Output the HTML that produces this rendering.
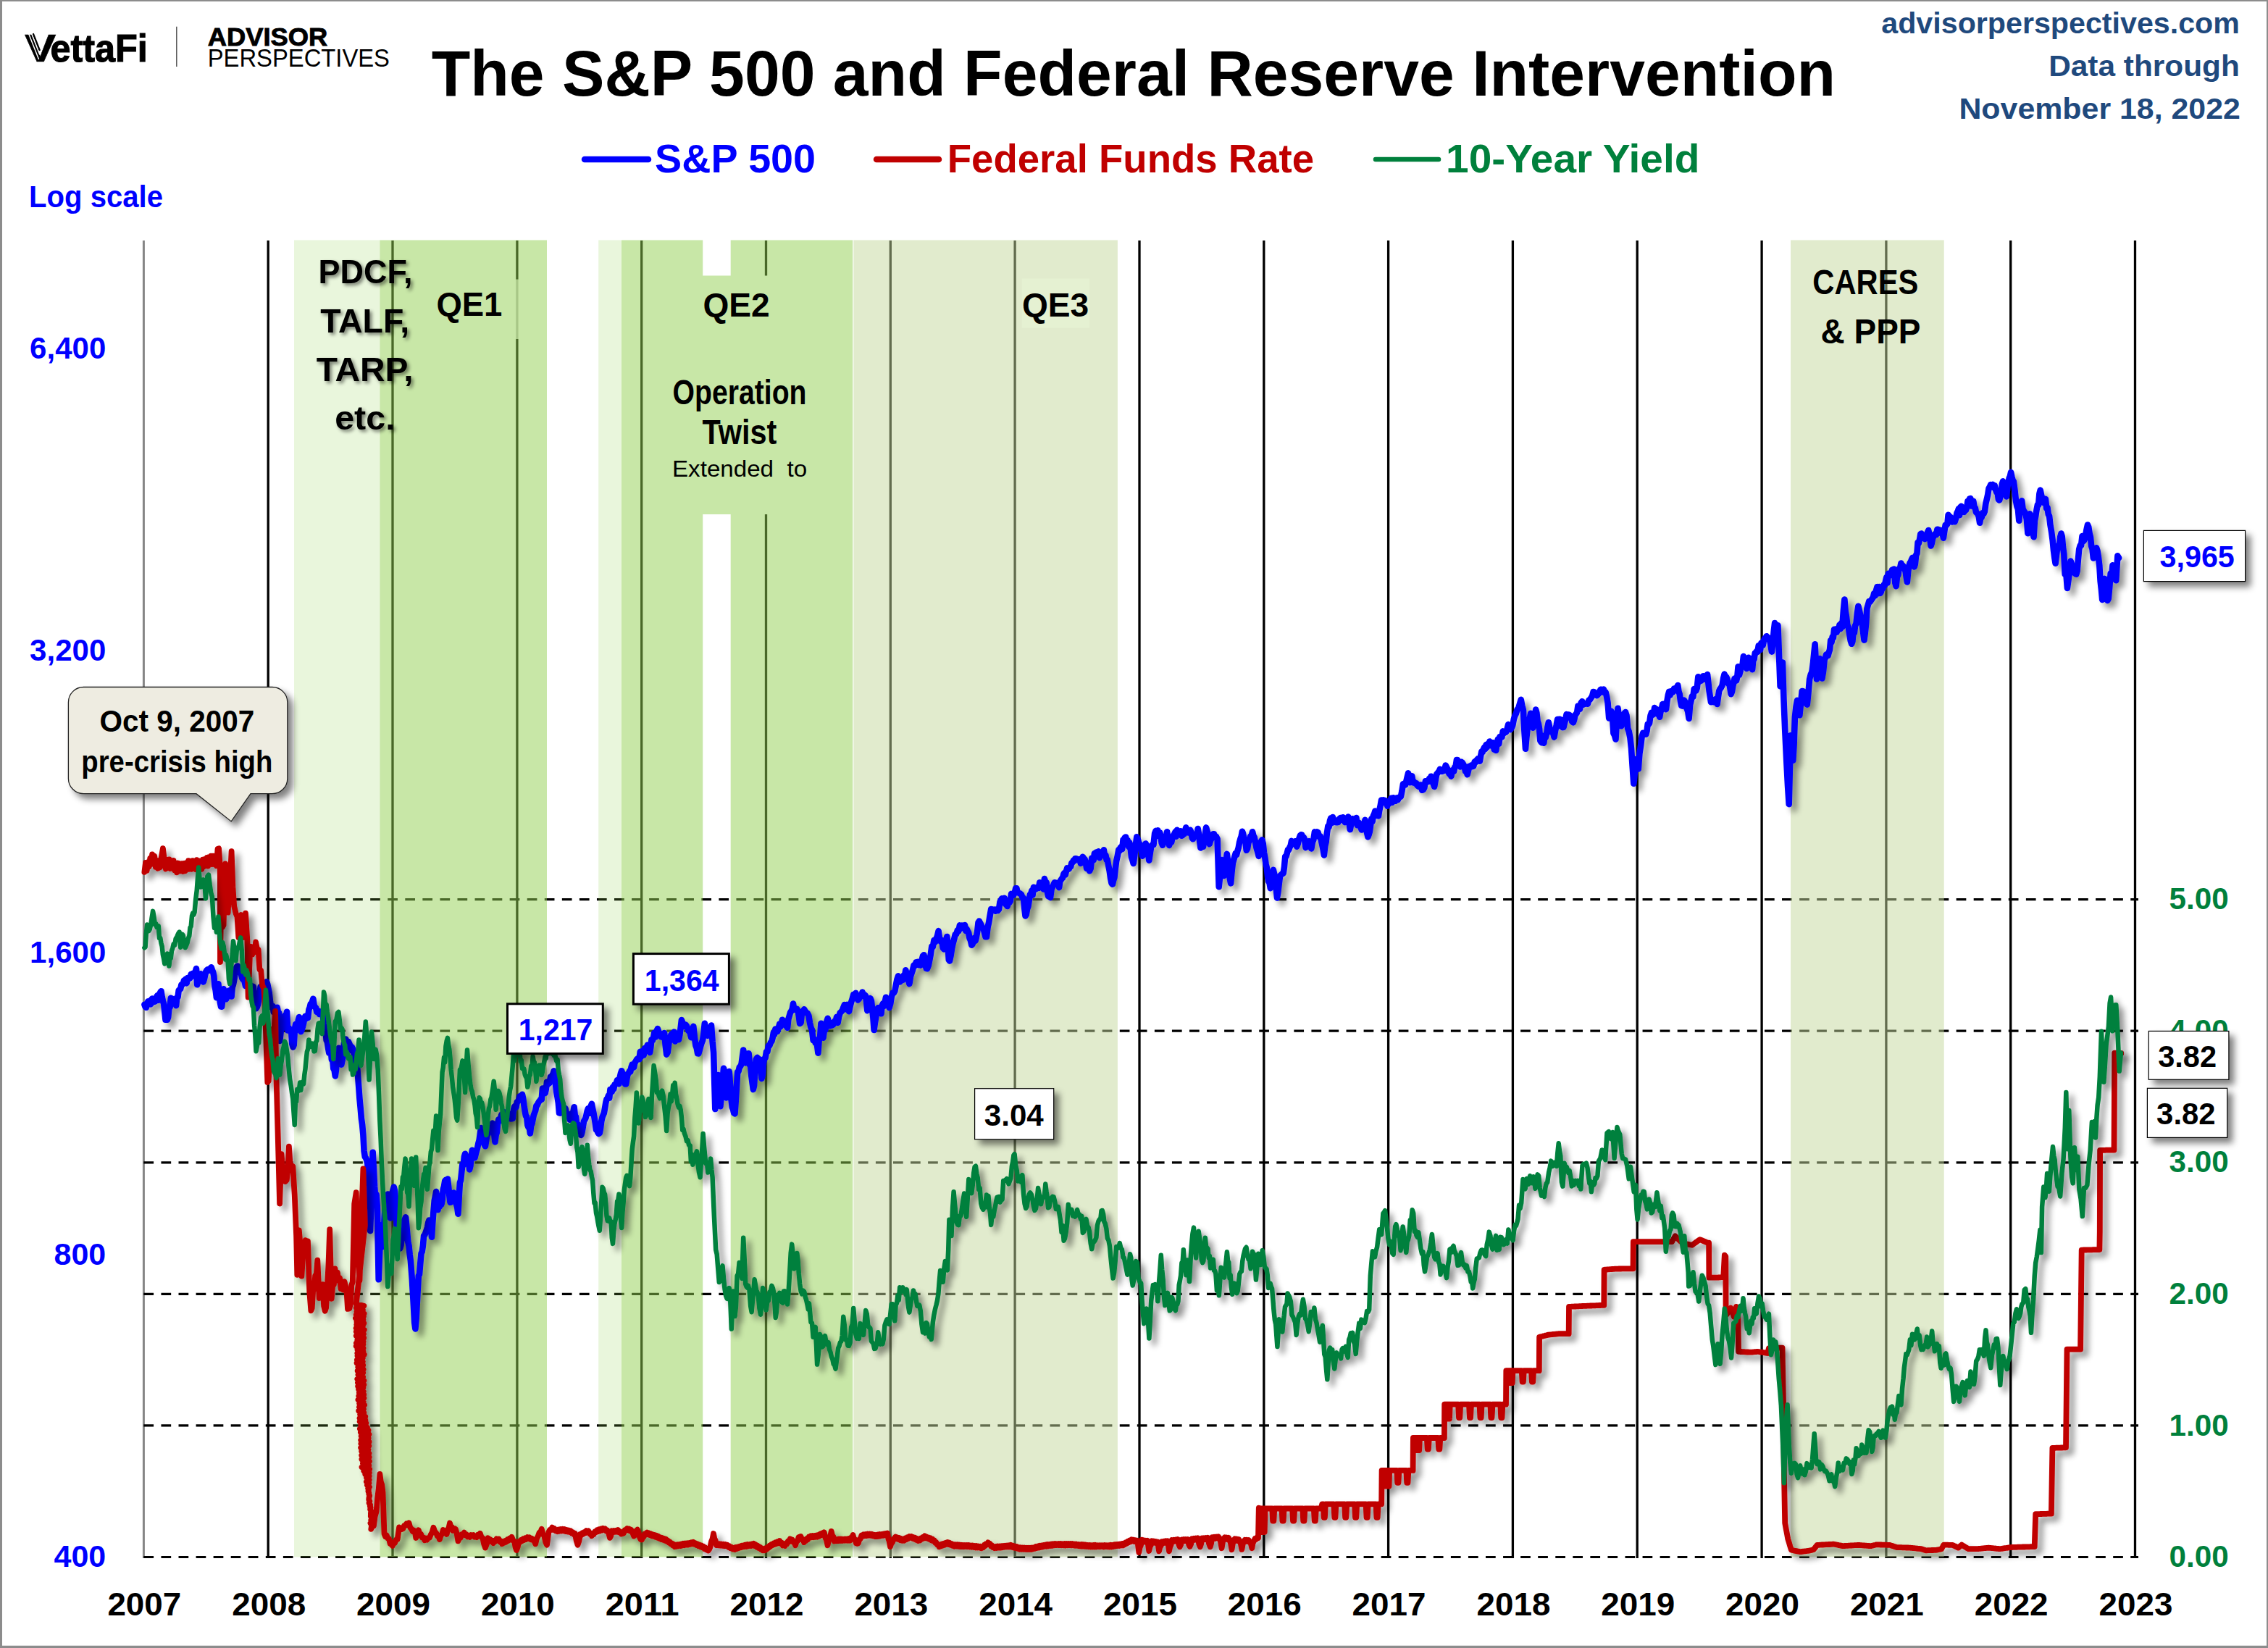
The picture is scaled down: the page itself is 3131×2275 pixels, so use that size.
<!DOCTYPE html><html><head><meta charset="utf-8"><title>The S&amp;P 500 and Federal Reserve Intervention</title>
<style>html,body{margin:0;padding:0;background:#fff}svg{display:block}text{font-family:"Liberation Sans",sans-serif}</style></head><body>
<svg width="3131" height="2275" viewBox="0 0 3131 2275">
<defs>
<filter id="sh" x="-5%" y="-5%" width="110%" height="115%"><feGaussianBlur in="SourceAlpha" stdDeviation="4.5"/><feOffset dx="6.5" dy="7"/><feComponentTransfer><feFuncA type="linear" slope="0.42"/></feComponentTransfer><feMerge><feMergeNode/><feMergeNode in="SourceGraphic"/></feMerge></filter>
<filter id="shb" x="-20%" y="-20%" width="150%" height="170%"><feGaussianBlur in="SourceAlpha" stdDeviation="5"/><feOffset dx="7" dy="7"/><feComponentTransfer><feFuncA type="linear" slope="0.5"/></feComponentTransfer><feMerge><feMergeNode/><feMergeNode in="SourceGraphic"/></feMerge></filter>
<filter id="sht" x="-10%" y="-20%" width="130%" height="150%"><feGaussianBlur in="SourceAlpha" stdDeviation="2.5"/><feOffset dx="3" dy="3"/><feComponentTransfer><feFuncA type="linear" slope="0.5"/></feComponentTransfer><feMerge><feMergeNode/><feMergeNode in="SourceGraphic"/></feMerge></filter>
</defs>
<rect x="0" y="0" width="3131" height="2275" fill="#fff"/>
<path d="M0 0H3131 V2275 H0Z M3 2 V2271.8 H3129 V2Z" fill="#8c8c8c" fill-rule="evenodd"/>
<g id="grid">
<line x1="198.4" y1="332" x2="198.4" y2="2151.0" stroke="#868686" stroke-width="3"/>
<line x1="370.2" y1="332" x2="370.2" y2="2151.0" stroke="#000" stroke-width="3.3"/>
<line x1="542.0" y1="332" x2="542.0" y2="2151.0" stroke="#000" stroke-width="3.3"/>
<line x1="713.9" y1="332" x2="713.9" y2="2151.0" stroke="#000" stroke-width="3.3"/>
<line x1="885.7" y1="332" x2="885.7" y2="2151.0" stroke="#000" stroke-width="3.3"/>
<line x1="1057.5" y1="332" x2="1057.5" y2="2151.0" stroke="#000" stroke-width="3.3"/>
<line x1="1229.3" y1="332" x2="1229.3" y2="2151.0" stroke="#000" stroke-width="3.3"/>
<line x1="1401.1" y1="332" x2="1401.1" y2="2151.0" stroke="#000" stroke-width="3.3"/>
<line x1="1573.0" y1="332" x2="1573.0" y2="2151.0" stroke="#000" stroke-width="3.3"/>
<line x1="1744.8" y1="332" x2="1744.8" y2="2151.0" stroke="#000" stroke-width="3.3"/>
<line x1="1916.6" y1="332" x2="1916.6" y2="2151.0" stroke="#000" stroke-width="3.3"/>
<line x1="2088.4" y1="332" x2="2088.4" y2="2151.0" stroke="#000" stroke-width="3.3"/>
<line x1="2260.2" y1="332" x2="2260.2" y2="2151.0" stroke="#000" stroke-width="3.3"/>
<line x1="2432.1" y1="332" x2="2432.1" y2="2151.0" stroke="#000" stroke-width="3.3"/>
<line x1="2603.9" y1="332" x2="2603.9" y2="2151.0" stroke="#000" stroke-width="3.3"/>
<line x1="2775.7" y1="332" x2="2775.7" y2="2151.0" stroke="#000" stroke-width="3.3"/>
<line x1="2947.5" y1="332" x2="2947.5" y2="2151.0" stroke="#000" stroke-width="3.3"/>
<line x1="198.4" y1="2149.5" x2="2952" y2="2149.5" stroke="#000" stroke-width="3.2" stroke-dasharray="13.7 10.36"/>
<line x1="198.4" y1="1967.9" x2="2952" y2="1967.9" stroke="#000" stroke-width="3.2" stroke-dasharray="13.7 10.36"/>
<line x1="198.4" y1="1786.4" x2="2952" y2="1786.4" stroke="#000" stroke-width="3.2" stroke-dasharray="13.7 10.36"/>
<line x1="198.4" y1="1604.8" x2="2952" y2="1604.8" stroke="#000" stroke-width="3.2" stroke-dasharray="13.7 10.36"/>
<line x1="198.4" y1="1423.2" x2="2952" y2="1423.2" stroke="#000" stroke-width="3.2" stroke-dasharray="13.7 10.36"/>
<line x1="198.4" y1="1241.7" x2="2952" y2="1241.7" stroke="#000" stroke-width="3.2" stroke-dasharray="13.7 10.36"/>
</g>
<g id="bands">
<rect x="406.0" y="331.5" width="118.4" height="1818.0" fill="#92d050" fill-opacity="0.20"/>
<rect x="524.4" y="331.5" width="230.6" height="1818.0" fill="#92d050" fill-opacity="0.50"/>
<rect x="826.2" y="331.5" width="31.8" height="1818.0" fill="#92d050" fill-opacity="0.20"/>
<rect x="858.0" y="331.5" width="112.2" height="1818.0" fill="#92d050" fill-opacity="0.50"/>
<rect x="1008.7" y="331.5" width="168.5" height="1818.0" fill="#92d050" fill-opacity="0.50"/>
<rect x="1178.4" y="331.5" width="364.5" height="1818.0" fill="#c4d79b" fill-opacity="0.50"/>
<rect x="2472.0" y="331.5" width="211.7" height="1818.0" fill="#c4d79b" fill-opacity="0.50"/>
<rect x="925" y="380.5" width="195" height="329.5" fill="#c8e7a7"/>
<rect x="590" y="385.6" width="135" height="82.4" fill="#c8e7a7" fill-opacity="0.75"/>
<rect x="1410.7" y="384.5" width="93.3" height="68.3" fill="#e5f1d2"/>
</g>
<g id="series" fill="none" stroke-linejoin="round" stroke-linecap="round">
<path filter="url(#sh)" stroke="#0000ff" stroke-width="8.6" d="M199.4 1386.7 L200.6 1389.9 L201.8 1390.8 L203.1 1385.8 L204.3 1382.4 L205.5 1384.6 L206.7 1385.3 L207.9 1386.4 L209.1 1379.6 L210.3 1378.5 L211.6 1383.3 L212.8 1381.4 L214.0 1382.7 L215.2 1379.9 L216.4 1375.4 L217.6 1373.9 L218.8 1380.7 L220.0 1372.6 L221.3 1370.0 L222.5 1368.2 L223.7 1376.5 L224.9 1381.8 L226.1 1385.5 L227.3 1396.5 L228.5 1407.8 L229.8 1407.7 L231.0 1407.7 L232.2 1404.1 L233.4 1391.3 L234.6 1390.5 L235.8 1377.8 L237.0 1381.5 L238.3 1378.8 L239.5 1383.2 L240.7 1381.9 L241.9 1382.0 L243.1 1388.1 L244.3 1377.0 L245.5 1376.6 L246.7 1367.2 L248.0 1366.0 L249.2 1365.1 L250.4 1359.5 L251.6 1359.5 L252.8 1357.6 L254.0 1353.4 L255.2 1356.2 L256.5 1351.5 L257.7 1357.4 L258.9 1350.1 L260.1 1351.8 L261.3 1348.9 L262.5 1350.1 L263.7 1344.9 L265.0 1347.8 L266.2 1343.7 L267.4 1346.1 L268.6 1343.4 L269.8 1340.8 L271.0 1337.0 L272.2 1359.3 L273.4 1355.0 L274.7 1354.5 L275.9 1345.6 L277.1 1344.2 L278.3 1348.2 L279.5 1351.6 L280.7 1355.5 L281.9 1351.7 L283.2 1346.0 L284.4 1341.1 L285.6 1339.1 L286.8 1338.2 L288.0 1339.9 L289.2 1337.7 L290.4 1336.9 L291.7 1335.3 L292.9 1339.1 L294.1 1341.7 L295.3 1347.3 L296.5 1361.4 L297.7 1367.2 L298.9 1377.2 L300.1 1373.4 L301.4 1358.2 L302.6 1371.7 L303.8 1383.2 L305.0 1389.5 L306.2 1389.6 L307.4 1379.0 L308.6 1365.3 L309.9 1372.3 L311.1 1376.3 L312.3 1379.2 L313.5 1375.5 L314.7 1371.2 L315.9 1367.6 L317.1 1369.1 L318.3 1369.7 L319.6 1375.5 L320.8 1362.7 L322.0 1359.3 L323.2 1353.1 L324.4 1345.1 L325.6 1336.6 L326.8 1334.6 L328.1 1333.5 L329.3 1336.9 L330.5 1342.1 L331.7 1337.8 L332.9 1344.2 L334.1 1350.1 L335.3 1352.1 L336.6 1346.8 L337.8 1355.9 L339.0 1361.2 L340.2 1358.7 L341.4 1354.1 L342.6 1356.1 L343.8 1358.6 L345.0 1365.6 L346.3 1361.7 L347.5 1360.9 L348.7 1365.6 L349.9 1362.1 L351.1 1377.7 L352.3 1381.6 L353.5 1392.3 L354.8 1390.2 L356.0 1386.9 L357.2 1379.6 L358.4 1373.2 L359.6 1362.1 L360.8 1363.1 L362.0 1361.8 L363.3 1360.3 L364.5 1361.6 L365.7 1357.5 L366.9 1358.7 L368.1 1355.2 L369.3 1358.8 L370.5 1364.8 L371.7 1370.6 L373.0 1382.7 L374.2 1390.1 L375.4 1391.2 L376.6 1388.9 L377.8 1397.4 L379.0 1398.1 L380.2 1394.1 L381.5 1393.3 L382.7 1390.7 L383.9 1397.1 L385.1 1398.2 L386.3 1436.9 L387.5 1425.5 L388.7 1417.2 L390.0 1406.3 L391.2 1418.5 L392.4 1411.7 L393.6 1401.5 L394.8 1406.2 L396.0 1396.7 L397.2 1422.5 L398.4 1418.5 L399.7 1420.6 L400.9 1422.2 L402.1 1423.5 L403.3 1441.3 L404.5 1445.4 L405.7 1442.8 L406.9 1420.4 L408.2 1413.7 L409.4 1421.1 L410.6 1421.5 L411.8 1407.9 L413.0 1404.0 L414.2 1418.9 L415.4 1424.1 L416.7 1421.3 L417.9 1417.3 L419.1 1412.5 L420.3 1405.5 L421.5 1402.7 L422.7 1406.1 L423.9 1401.7 L425.1 1404.9 L426.4 1393.8 L427.6 1390.7 L428.8 1385.9 L430.0 1388.1 L431.2 1382.1 L432.4 1378.7 L433.6 1387.7 L434.9 1390.2 L436.1 1391.4 L437.3 1397.0 L438.5 1396.3 L439.7 1395.6 L440.9 1400.0 L442.1 1399.4 L443.3 1397.4 L444.6 1396.1 L445.8 1401.7 L447.0 1412.8 L448.2 1418.6 L449.4 1420.9 L450.6 1436.0 L451.8 1438.4 L453.1 1447.2 L454.3 1453.8 L455.5 1449.2 L456.7 1447.9 L457.9 1462.9 L459.1 1461.3 L460.3 1475.1 L461.6 1477.1 L462.8 1485.4 L464.0 1476.6 L465.2 1456.7 L466.4 1460.0 L467.6 1446.8 L468.8 1451.9 L470.0 1458.8 L471.3 1469.6 L472.5 1463.9 L473.7 1458.0 L474.9 1440.3 L476.1 1443.1 L477.3 1434.5 L478.5 1442.5 L479.8 1444.7 L481.0 1437.9 L482.2 1440.7 L483.4 1443.7 L484.6 1449.9 L485.8 1445.3 L487.0 1447.8 L488.3 1451.0 L489.5 1465.8 L490.7 1467.8 L491.9 1466.8 L493.1 1472.3 L494.8 1494.5 L496.5 1517.4 L497.7 1530.2 L498.9 1544.2 L500.1 1552.4 L501.4 1566.9 L502.6 1588.8 L503.8 1596.8 L505.0 1598.6 L506.2 1601.4 L507.4 1606.5 L508.6 1638.6 L509.9 1665.2 L511.1 1699.2 L512.3 1664.8 L513.5 1625.9 L514.7 1590.7 L515.9 1614.1 L517.1 1638.0 L518.3 1654.3 L519.6 1649.2 L520.8 1665.4 L522.7 1766.3 L524.2 1727.4 L525.6 1691.5 L527.1 1710.6 L528.5 1720.9 L530.1 1693.1 L531.7 1664.4 L532.9 1660.7 L534.1 1659.5 L535.3 1648.5 L536.6 1657.2 L537.8 1668.7 L539.0 1681.5 L540.2 1658.5 L541.4 1647.0 L542.6 1642.8 L543.8 1638.6 L545.0 1643.9 L546.3 1659.7 L547.5 1689.4 L548.7 1700.2 L549.9 1700.7 L551.1 1710.5 L552.3 1723.4 L553.5 1719.1 L554.8 1709.0 L556.0 1686.4 L557.3 1692.2 L558.7 1683.4 L560.1 1680.3 L561.7 1696.8 L563.3 1714.5 L564.5 1719.7 L565.7 1731.7 L566.9 1740.8 L568.8 1765.4 L570.5 1794.7 L572.2 1826.0 L573.4 1834.4 L574.7 1819.6 L576.1 1791.7 L577.8 1761.2 L579.0 1759.4 L580.2 1745.0 L581.5 1730.4 L582.7 1727.9 L583.9 1719.7 L585.1 1705.9 L586.3 1704.8 L587.5 1701.8 L588.7 1698.6 L590.0 1694.1 L591.2 1687.8 L592.4 1684.5 L593.6 1688.7 L594.8 1694.1 L596.0 1707.8 L597.2 1688.9 L598.4 1673.2 L599.7 1657.4 L600.9 1651.7 L602.1 1645.1 L603.3 1651.1 L604.5 1670.1 L605.7 1664.8 L606.9 1665.7 L608.2 1663.0 L609.4 1662.8 L610.6 1656.1 L611.8 1641.7 L613.0 1637.7 L614.2 1630.3 L615.4 1628.9 L616.7 1633.2 L617.9 1627.5 L619.1 1637.8 L620.3 1650.2 L621.5 1659.8 L622.7 1659.4 L623.9 1658.5 L625.1 1655.7 L626.4 1646.6 L627.6 1649.0 L628.8 1654.5 L630.0 1662.1 L631.2 1666.4 L632.4 1675.7 L633.6 1654.2 L634.9 1632.5 L636.1 1629.3 L637.3 1617.9 L638.5 1606.8 L639.7 1608.4 L640.9 1596.8 L642.1 1592.7 L643.3 1596.1 L644.6 1598.0 L645.8 1598.4 L647.0 1603.8 L648.2 1614.4 L649.4 1609.7 L650.6 1597.3 L651.8 1587.8 L653.1 1590.5 L654.3 1594.2 L655.5 1598.1 L656.7 1593.3 L657.9 1588.9 L659.1 1584.7 L660.3 1578.7 L661.6 1573.9 L662.8 1565.4 L664.0 1557.1 L665.2 1563.0 L666.4 1567.3 L667.6 1573.8 L668.8 1580.2 L670.0 1582.3 L671.3 1573.8 L672.5 1566.6 L673.7 1565.5 L674.9 1559.3 L676.1 1557.3 L677.3 1555.6 L678.5 1554.3 L679.8 1550.6 L681.0 1561.4 L682.2 1565.2 L683.4 1576.4 L684.6 1567.1 L685.8 1563.5 L687.0 1551.9 L688.3 1545.2 L689.5 1545.6 L690.7 1547.3 L691.9 1539.8 L693.1 1537.9 L694.3 1541.9 L695.5 1535.1 L696.7 1540.4 L698.0 1538.3 L699.2 1540.4 L700.4 1536.1 L701.6 1544.3 L702.8 1541.8 L704.0 1538.0 L705.2 1544.4 L706.5 1538.4 L707.7 1544.1 L708.9 1532.8 L710.1 1527.7 L711.3 1526.5 L712.5 1528.6 L713.7 1521.5 L715.0 1520.3 L716.2 1518.1 L717.4 1513.4 L718.6 1515.8 L719.8 1513.6 L721.0 1510.8 L722.2 1516.5 L723.4 1525.9 L724.7 1533.8 L725.9 1540.5 L727.1 1541.4 L728.3 1553.1 L729.5 1556.1 L730.7 1555.6 L731.9 1564.6 L733.2 1553.8 L734.4 1551.4 L735.6 1545.4 L736.8 1539.4 L738.0 1536.2 L739.2 1533.2 L740.4 1526.5 L741.7 1525.7 L742.9 1522.6 L744.1 1520.6 L745.3 1519.3 L746.5 1517.6 L747.7 1517.9 L748.9 1502.6 L750.1 1508.0 L751.4 1503.8 L752.6 1509.1 L753.8 1503.5 L755.0 1493.5 L756.2 1497.2 L757.4 1492.7 L758.6 1495.1 L759.9 1486.8 L761.1 1486.9 L762.3 1484.5 L763.5 1482.2 L764.7 1478.3 L765.9 1482.6 L767.1 1497.4 L768.3 1507.4 L769.6 1514.8 L770.8 1522.4 L772.0 1536.4 L773.2 1536.7 L774.4 1533.5 L775.6 1532.9 L776.8 1536.3 L778.1 1527.9 L779.3 1531.7 L780.5 1530.1 L781.7 1536.0 L782.9 1538.4 L784.1 1540.2 L785.3 1539.6 L786.6 1545.7 L787.8 1538.7 L789.0 1537.3 L790.2 1542.8 L791.4 1535.0 L792.6 1528.3 L793.8 1539.9 L795.0 1541.7 L796.3 1554.7 L797.5 1551.8 L798.7 1557.1 L799.9 1557.7 L801.1 1566.3 L802.3 1566.9 L803.5 1562.9 L804.8 1555.4 L806.0 1548.0 L807.2 1545.9 L808.4 1543.7 L809.6 1538.7 L810.8 1533.2 L812.0 1530.1 L813.3 1531.7 L814.5 1536.7 L815.7 1526.8 L816.9 1523.8 L818.1 1530.5 L819.3 1535.8 L820.5 1542.5 L821.7 1549.7 L823.0 1559.6 L824.2 1560.4 L825.4 1563.5 L826.6 1565.0 L827.8 1564.2 L829.0 1557.7 L830.2 1548.0 L831.5 1542.2 L832.7 1539.3 L833.9 1536.5 L835.1 1529.5 L836.3 1522.1 L837.5 1517.4 L838.7 1516.2 L840.0 1512.3 L841.2 1515.7 L842.4 1504.1 L843.6 1503.9 L844.8 1506.9 L846.0 1500.5 L847.2 1503.4 L848.4 1497.2 L849.7 1496.9 L850.9 1494.8 L852.1 1491.1 L853.3 1491.5 L854.5 1496.3 L855.7 1487.2 L856.9 1482.0 L858.2 1478.2 L859.4 1482.6 L860.6 1489.3 L861.8 1491.0 L863.0 1496.4 L864.2 1496.4 L865.4 1488.9 L866.7 1482.1 L867.9 1481.6 L869.1 1478.4 L870.3 1479.4 L871.5 1473.2 L872.7 1469.5 L873.9 1469.6 L875.1 1473.4 L876.4 1466.8 L877.6 1465.2 L878.8 1462.8 L880.0 1461.6 L881.3 1462.1 L882.5 1462.2 L883.8 1451.8 L885.0 1459.0 L886.3 1453.9 L887.5 1450.6 L888.7 1456.5 L890.0 1447.1 L891.2 1450.9 L892.4 1446.1 L894.0 1442.6 L895.5 1449.4 L897.1 1452.9 L898.3 1446.0 L899.5 1435.0 L900.8 1436.3 L902.0 1432.7 L903.2 1425.7 L904.8 1431.7 L906.3 1423.4 L907.9 1420.1 L909.4 1424.4 L911.0 1427.1 L912.5 1431.2 L914.1 1431.7 L915.6 1430.5 L917.2 1426.0 L918.7 1443.3 L920.2 1455.7 L921.8 1452.5 L923.3 1440.2 L924.9 1434.2 L926.4 1428.4 L928.0 1426.8 L929.5 1426.5 L930.7 1424.5 L932.0 1437.5 L933.2 1432.7 L934.5 1434.4 L935.7 1434.5 L937.0 1435.2 L938.3 1428.8 L939.6 1419.3 L940.9 1408.0 L942.3 1411.8 L943.7 1416.9 L945.1 1415.2 L946.5 1414.6 L947.7 1416.0 L949.0 1418.8 L950.2 1422.7 L951.4 1422.4 L952.7 1425.9 L954.2 1432.2 L955.8 1427.5 L957.3 1416.9 L958.9 1432.2 L960.4 1443.2 L961.7 1446.6 L963.1 1454.3 L964.4 1454.4 L965.9 1449.1 L967.3 1443.8 L968.7 1439.5 L970.1 1435.9 L971.4 1426.9 L972.8 1412.8 L974.1 1418.7 L975.4 1421.4 L976.8 1429.8 L978.1 1426.7 L979.4 1427.1 L980.7 1422.8 L982.0 1415.6 L983.6 1437.8 L985.1 1452.9 L987.3 1531.0 L988.6 1511.2 L990.0 1500.6 L991.3 1484.1 L992.8 1504.1 L994.4 1527.3 L995.9 1512.0 L997.5 1492.8 L999.0 1474.7 L1000.3 1479.6 L1001.5 1497.6 L1002.7 1515.4 L1004.1 1501.6 L1005.4 1482.9 L1006.7 1479.0 L1008.1 1498.0 L1009.4 1516.9 L1010.8 1528.5 L1012.0 1531.2 L1013.2 1536.5 L1014.5 1537.4 L1015.7 1520.1 L1016.9 1501.1 L1018.2 1479.7 L1019.5 1479.1 L1020.8 1473.2 L1022.2 1472.0 L1023.5 1469.1 L1024.9 1458.7 L1026.2 1449.5 L1027.7 1459.8 L1029.3 1467.4 L1030.8 1462.2 L1032.4 1454.4 L1033.6 1454.2 L1034.9 1469.6 L1036.1 1469.6 L1037.3 1485.1 L1038.6 1495.2 L1039.8 1504.0 L1041.1 1498.8 L1042.5 1473.2 L1043.8 1462.5 L1045.4 1459.9 L1046.9 1463.8 L1048.4 1462.2 L1050.0 1474.0 L1051.5 1488.9 L1052.8 1483.9 L1054.0 1467.4 L1055.2 1461.4 L1056.6 1460.4 L1058.0 1452.0 L1059.4 1451.9 L1060.8 1443.7 L1062.3 1443.6 L1063.9 1439.2 L1065.4 1437.3 L1066.7 1432.4 L1067.9 1425.2 L1069.1 1428.0 L1070.4 1420.5 L1071.6 1423.4 L1073.2 1423.9 L1074.7 1419.2 L1076.2 1413.5 L1077.5 1417.4 L1078.7 1413.3 L1080.0 1407.7 L1081.2 1408.9 L1082.4 1413.1 L1084.0 1411.8 L1085.5 1416.5 L1087.1 1418.7 L1088.4 1406.9 L1089.7 1402.5 L1091.1 1397.6 L1092.4 1395.7 L1093.7 1393.0 L1095.0 1385.5 L1096.3 1393.7 L1097.7 1392.2 L1099.0 1392.5 L1100.3 1392.9 L1101.6 1395.4 L1102.8 1402.4 L1104.1 1412.9 L1105.6 1411.9 L1107.1 1396.9 L1108.7 1395.6 L1110.2 1393.3 L1111.8 1396.1 L1113.3 1398.0 L1114.9 1399.0 L1116.4 1402.1 L1118.0 1412.0 L1119.5 1418.4 L1121.0 1421.8 L1122.6 1436.1 L1124.1 1434.3 L1125.7 1439.7 L1127.2 1436.0 L1129.4 1453.7 L1130.7 1435.7 L1132.1 1432.0 L1133.4 1412.9 L1134.9 1429.8 L1136.5 1432.7 L1137.7 1423.7 L1139.0 1422.2 L1140.2 1418.9 L1141.4 1409.7 L1142.7 1405.8 L1144.2 1412.7 L1145.8 1416.2 L1147.3 1412.1 L1148.8 1415.4 L1150.4 1414.2 L1151.9 1409.9 L1153.5 1410.5 L1155.0 1403.9 L1156.6 1411.9 L1158.1 1403.5 L1159.7 1398.2 L1161.2 1396.8 L1162.7 1395.0 L1164.3 1390.8 L1165.8 1387.0 L1167.1 1393.1 L1168.3 1392.7 L1169.5 1386.9 L1170.8 1390.2 L1172.0 1396.2 L1173.6 1389.2 L1175.1 1383.5 L1176.7 1378.5 L1178.2 1373.2 L1179.7 1373.5 L1181.3 1370.8 L1182.8 1374.7 L1184.4 1380.5 L1185.9 1378.8 L1187.5 1375.9 L1189.0 1374.9 L1190.6 1369.6 L1192.1 1374.8 L1193.6 1373.4 L1194.9 1374.5 L1196.1 1382.6 L1197.3 1395.1 L1198.7 1390.4 L1200.1 1385.3 L1201.5 1378.1 L1202.9 1381.6 L1204.1 1392.3 L1205.4 1404.9 L1206.6 1422.0 L1208.0 1411.5 L1209.3 1403.8 L1210.6 1393.8 L1212.2 1391.3 L1213.7 1392.7 L1215.3 1390.5 L1216.5 1399.3 L1217.7 1388.1 L1219.0 1385.4 L1220.2 1389.1 L1221.4 1384.6 L1223.0 1376.7 L1224.5 1380.2 L1226.1 1385.0 L1227.6 1391.0 L1229.2 1385.7 L1230.7 1376.4 L1232.3 1370.9 L1233.8 1370.8 L1235.3 1368.2 L1236.9 1359.6 L1238.4 1352.2 L1240.0 1347.4 L1241.2 1352.6 L1242.5 1355.4 L1243.7 1353.4 L1244.9 1353.0 L1246.2 1352.9 L1247.6 1346.3 L1248.9 1348.0 L1250.3 1339.2 L1251.7 1344.4 L1253.0 1349.4 L1254.2 1353.6 L1255.4 1358.2 L1257.0 1347.8 L1258.5 1343.3 L1260.1 1338.6 L1261.6 1332.3 L1263.2 1333.2 L1264.7 1328.2 L1265.9 1331.1 L1267.2 1327.8 L1268.4 1332.1 L1269.6 1330.8 L1270.9 1332.6 L1272.4 1325.8 L1274.0 1319.8 L1275.5 1318.2 L1277.1 1328.6 L1278.6 1336.6 L1280.1 1337.1 L1281.7 1333.0 L1283.2 1325.9 L1284.8 1317.5 L1286.3 1306.5 L1287.9 1306.7 L1289.4 1297.9 L1291.0 1300.6 L1292.5 1296.1 L1294.0 1292.0 L1295.6 1285.1 L1297.1 1296.6 L1298.7 1299.9 L1300.2 1298.1 L1301.8 1308.7 L1303.3 1310.4 L1304.7 1304.9 L1306.0 1298.6 L1307.3 1293.0 L1308.6 1304.5 L1309.8 1324.9 L1311.0 1326.6 L1312.6 1319.0 L1314.1 1309.2 L1315.7 1301.9 L1317.2 1296.5 L1318.8 1289.8 L1320.3 1289.4 L1321.8 1284.2 L1323.4 1285.3 L1324.9 1277.4 L1326.5 1281.8 L1328.0 1277.7 L1329.6 1278.1 L1330.8 1277.7 L1332.0 1277.1 L1333.3 1285.1 L1334.5 1282.4 L1335.7 1284.9 L1337.1 1287.3 L1338.5 1295.1 L1339.9 1298.1 L1341.3 1304.7 L1342.6 1303.4 L1343.9 1298.8 L1345.2 1294.9 L1346.6 1298.8 L1347.9 1293.6 L1349.2 1286.0 L1350.5 1273.5 L1351.8 1271.6 L1353.2 1274.2 L1354.6 1277.0 L1356.0 1280.5 L1357.4 1281.4 L1358.9 1287.0 L1360.5 1293.3 L1362.0 1293.3 L1363.6 1279.9 L1365.1 1273.5 L1366.6 1264.3 L1368.2 1255.1 L1369.7 1255.2 L1371.3 1256.1 L1372.8 1255.6 L1374.4 1257.8 L1375.9 1255.3 L1377.5 1257.0 L1379.0 1255.2 L1380.5 1244.9 L1381.8 1242.4 L1383.0 1240.4 L1384.3 1245.8 L1385.5 1243.2 L1386.7 1239.7 L1388.0 1247.9 L1389.3 1249.2 L1390.7 1251.0 L1392.0 1246.2 L1393.4 1246.2 L1394.8 1244.0 L1396.1 1233.9 L1397.5 1235.4 L1399.1 1235.7 L1400.6 1233.1 L1402.2 1226.2 L1403.4 1226.3 L1404.6 1231.5 L1405.9 1232.3 L1407.1 1233.3 L1408.3 1233.5 L1409.9 1234.8 L1411.4 1238.8 L1413.0 1239.6 L1414.2 1253.4 L1415.5 1264.5 L1416.7 1262.7 L1418.0 1255.0 L1419.4 1251.2 L1420.7 1243.3 L1421.9 1235.0 L1423.2 1233.6 L1424.4 1229.4 L1425.6 1235.6 L1426.9 1224.8 L1428.4 1226.6 L1430.0 1227.4 L1431.5 1224.9 L1432.8 1224.4 L1434.0 1225.9 L1435.2 1218.3 L1436.5 1221.4 L1437.7 1221.3 L1439.1 1220.7 L1440.5 1227.5 L1441.9 1213.1 L1443.3 1217.3 L1444.6 1218.0 L1445.9 1231.3 L1447.2 1237.3 L1448.5 1237.7 L1450.1 1239.0 L1451.6 1227.2 L1453.1 1224.4 L1454.4 1221.4 L1455.7 1218.3 L1457.0 1218.5 L1458.3 1219.0 L1459.6 1221.0 L1460.9 1219.4 L1462.1 1225.1 L1463.3 1216.9 L1464.6 1214.7 L1465.8 1213.0 L1467.0 1211.9 L1468.3 1206.8 L1469.5 1204.9 L1470.8 1207.6 L1472.0 1202.3 L1473.2 1198.4 L1474.5 1198.6 L1475.7 1199.6 L1476.9 1197.2 L1478.2 1196.3 L1479.4 1191.1 L1480.6 1190.6 L1481.9 1187.8 L1483.1 1188.6 L1484.3 1185.3 L1485.6 1185.3 L1486.8 1186.2 L1488.1 1186.4 L1489.3 1186.6 L1490.5 1186.2 L1491.8 1191.9 L1493.3 1186.2 L1494.8 1182.9 L1496.4 1185.4 L1497.6 1186.3 L1498.9 1190.8 L1500.1 1198.9 L1501.3 1198.5 L1502.6 1198.2 L1504.1 1202.3 L1505.7 1198.9 L1507.2 1184.7 L1508.4 1184.8 L1509.7 1187.5 L1510.9 1178.1 L1512.1 1179.3 L1513.4 1176.6 L1514.9 1180.1 L1516.5 1175.4 L1518.0 1184.3 L1519.6 1180.0 L1521.1 1179.7 L1522.7 1176.3 L1523.9 1173.3 L1525.1 1181.4 L1526.4 1180.6 L1527.6 1186.9 L1528.8 1187.0 L1530.3 1195.3 L1531.7 1202.5 L1533.1 1212.3 L1534.5 1219.2 L1535.9 1220.7 L1537.2 1215.1 L1538.4 1211.5 L1539.6 1200.6 L1541.2 1188.5 L1542.7 1181.9 L1544.3 1173.1 L1545.5 1174.8 L1546.7 1170.1 L1548.0 1168.8 L1549.2 1172.2 L1550.5 1159.5 L1551.7 1159.2 L1552.9 1156.1 L1554.2 1155.5 L1555.4 1161.9 L1556.6 1159.7 L1558.0 1168.7 L1559.3 1163.2 L1560.7 1171.0 L1562.0 1183.2 L1563.4 1187.4 L1564.7 1192.0 L1566.3 1180.6 L1567.8 1166.7 L1569.3 1155.2 L1570.9 1158.9 L1572.4 1164.9 L1574.0 1165.6 L1575.5 1172.6 L1577.1 1181.7 L1578.6 1179.8 L1580.2 1170.5 L1581.7 1164.5 L1583.2 1168.4 L1584.8 1174.8 L1586.3 1187.7 L1587.9 1176.8 L1589.4 1167.9 L1591.0 1166.1 L1592.5 1166.0 L1594.1 1150.7 L1595.6 1146.9 L1597.0 1148.9 L1598.4 1146.3 L1599.8 1154.3 L1601.2 1149.4 L1602.4 1153.6 L1603.6 1163.3 L1604.9 1166.8 L1606.4 1161.0 L1608.0 1157.0 L1609.5 1157.7 L1611.1 1148.3 L1612.6 1159.7 L1614.1 1167.0 L1615.7 1162.2 L1617.2 1162.6 L1618.8 1155.3 L1620.0 1153.2 L1621.2 1151.4 L1622.5 1148.3 L1623.7 1154.7 L1625.0 1145.7 L1626.2 1149.7 L1627.4 1149.9 L1628.7 1150.3 L1629.9 1147.2 L1631.1 1153.7 L1632.4 1153.4 L1633.6 1151.3 L1634.8 1151.3 L1636.1 1146.2 L1637.3 1142.4 L1638.9 1146.7 L1640.4 1149.5 L1641.9 1146.4 L1643.2 1145.9 L1644.4 1148.8 L1645.7 1156.6 L1646.9 1158.3 L1648.1 1154.2 L1649.5 1154.2 L1650.9 1153.9 L1652.3 1152.7 L1653.7 1144.1 L1654.9 1150.8 L1656.2 1161.4 L1657.4 1170.4 L1658.6 1169.4 L1659.9 1162.8 L1661.1 1168.7 L1662.4 1159.0 L1663.8 1151.9 L1665.1 1142.4 L1666.7 1148.0 L1668.2 1154.6 L1669.7 1165.2 L1671.0 1160.6 L1672.2 1158.1 L1673.5 1155.3 L1674.7 1151.4 L1675.9 1151.3 L1677.5 1155.8 L1679.0 1154.8 L1680.6 1158.1 L1682.7 1224.2 L1684.1 1210.8 L1685.4 1193.6 L1686.7 1187.0 L1688.3 1190.2 L1689.8 1208.9 L1691.2 1195.7 L1692.5 1190.1 L1693.8 1178.9 L1695.2 1190.2 L1696.5 1197.9 L1697.8 1212.9 L1699.1 1219.4 L1700.4 1204.7 L1701.8 1192.0 L1703.1 1187.1 L1704.4 1183.0 L1705.7 1178.0 L1707.1 1180.0 L1708.4 1174.8 L1709.7 1170.4 L1711.0 1163.2 L1712.4 1158.0 L1713.6 1154.7 L1714.9 1147.7 L1716.1 1150.7 L1717.6 1158.5 L1719.2 1160.4 L1720.7 1173.8 L1722.1 1171.5 L1723.4 1163.3 L1724.7 1160.7 L1726.2 1154.6 L1727.6 1153.6 L1729.1 1148.2 L1730.4 1153.8 L1731.7 1155.8 L1733.1 1163.0 L1734.6 1170.7 L1736.2 1175.8 L1737.7 1181.9 L1739.3 1172.2 L1740.8 1162.0 L1742.3 1159.4 L1743.7 1164.6 L1745.0 1177.0 L1746.4 1184.5 L1747.6 1192.9 L1748.8 1197.8 L1750.1 1210.6 L1751.3 1216.9 L1752.5 1218.5 L1753.8 1226.2 L1755.1 1218.6 L1756.5 1210.8 L1757.8 1200.8 L1759.1 1206.3 L1760.4 1215.1 L1761.7 1226.1 L1763.0 1239.5 L1764.4 1231.2 L1765.7 1220.2 L1767.1 1209.0 L1768.6 1207.7 L1770.2 1206.2 L1771.7 1205.5 L1772.9 1197.1 L1774.2 1182.6 L1775.4 1182.5 L1776.6 1178.5 L1777.9 1173.2 L1779.1 1173.3 L1780.3 1170.0 L1781.7 1167.4 L1783.0 1160.9 L1784.3 1164.5 L1785.6 1164.6 L1787.1 1164.4 L1788.7 1161.2 L1790.2 1168.7 L1791.8 1164.6 L1793.3 1157.9 L1794.9 1153.4 L1796.1 1152.3 L1797.3 1152.5 L1798.6 1157.3 L1799.8 1156.0 L1801.0 1158.8 L1802.6 1170.1 L1804.1 1165.0 L1805.7 1165.0 L1807.2 1161.2 L1808.8 1167.6 L1810.3 1171.4 L1811.9 1162.5 L1813.4 1159.0 L1814.9 1148.4 L1816.5 1153.9 L1818.0 1148.3 L1819.6 1149.4 L1821.1 1155.3 L1822.7 1154.4 L1824.2 1161.2 L1825.4 1166.9 L1826.7 1173.2 L1827.9 1180.6 L1829.3 1167.5 L1830.6 1162.5 L1831.9 1150.3 L1833.3 1140.5 L1834.6 1141.6 L1836.0 1133.0 L1837.3 1129.3 L1838.6 1136.2 L1839.9 1128.0 L1841.2 1133.8 L1842.7 1132.3 L1844.3 1135.3 L1845.8 1135.2 L1847.4 1135.0 L1848.9 1130.7 L1850.5 1129.2 L1851.7 1128.8 L1852.9 1131.9 L1854.2 1128.2 L1855.4 1132.9 L1856.7 1135.1 L1858.2 1130.0 L1859.7 1130.8 L1861.3 1127.5 L1862.5 1135.7 L1863.8 1145.1 L1865.0 1138.8 L1866.2 1132.4 L1867.5 1130.2 L1868.7 1132.0 L1869.9 1133.3 L1871.2 1135.4 L1872.4 1129.0 L1873.6 1139.1 L1874.9 1136.3 L1876.1 1135.9 L1877.3 1138.5 L1878.6 1142.6 L1879.8 1145.5 L1881.4 1139.8 L1882.9 1139.1 L1884.5 1131.9 L1885.8 1143.6 L1887.1 1149.7 L1888.5 1155.4 L1889.7 1152.1 L1890.9 1147.8 L1892.2 1138.5 L1893.4 1130.2 L1894.6 1134.0 L1895.9 1126.0 L1897.1 1123.8 L1898.4 1119.5 L1899.9 1124.0 L1901.4 1126.0 L1903.0 1126.4 L1904.3 1118.5 L1905.7 1112.0 L1907.0 1104.5 L1908.3 1108.6 L1909.6 1104.3 L1910.9 1105.2 L1912.3 1105.1 L1913.8 1107.3 L1915.3 1112.7 L1916.7 1106.3 L1918.0 1109.1 L1919.3 1107.0 L1920.6 1101.9 L1922.0 1107.7 L1923.4 1101.2 L1924.8 1105.4 L1926.2 1105.7 L1927.4 1101.8 L1928.6 1101.6 L1929.9 1104.1 L1931.1 1100.8 L1932.3 1100.4 L1933.9 1099.7 L1935.4 1092.2 L1937.0 1082.3 L1938.5 1081.7 L1940.1 1083.4 L1941.4 1078.2 L1942.7 1072.7 L1944.1 1067.3 L1945.4 1075.1 L1946.7 1080.2 L1948.0 1073.3 L1949.3 1071.3 L1950.6 1080.3 L1951.8 1078.9 L1953.0 1080.7 L1954.3 1081.9 L1955.5 1081.4 L1957.1 1084.8 L1958.6 1085.9 L1960.1 1083.8 L1961.7 1083.6 L1963.2 1090.8 L1964.8 1090.1 L1966.3 1087.4 L1967.9 1078.3 L1969.4 1078.2 L1970.6 1078.1 L1971.9 1079.1 L1973.1 1074.8 L1974.4 1075.3 L1975.6 1071.7 L1977.1 1079.0 L1978.7 1081.9 L1980.2 1085.9 L1981.8 1076.5 L1983.3 1068.6 L1984.9 1066.8 L1986.4 1065.0 L1987.9 1061.8 L1989.5 1064.2 L1990.7 1064.8 L1992.0 1062.6 L1993.2 1064.0 L1994.4 1061.4 L1995.7 1056.6 L1997.0 1059.1 L1998.2 1061.4 L1999.5 1066.0 L2000.8 1068.4 L2002.1 1067.7 L2003.4 1071.7 L2004.6 1063.6 L2005.9 1062.7 L2007.1 1064.8 L2008.3 1059.1 L2009.6 1058.0 L2010.9 1049.1 L2012.1 1049.1 L2013.4 1051.2 L2014.7 1056.6 L2016.0 1058.5 L2017.3 1051.7 L2018.7 1052.7 L2020.1 1055.0 L2021.6 1057.9 L2023.0 1064.6 L2024.4 1064.7 L2025.7 1069.2 L2027.0 1064.2 L2028.3 1057.9 L2029.7 1058.5 L2031.2 1056.4 L2032.7 1058.1 L2034.3 1057.6 L2035.8 1051.3 L2037.4 1052.2 L2038.9 1048.9 L2040.3 1047.4 L2041.6 1048.8 L2042.9 1050.7 L2044.2 1043.1 L2045.4 1037.3 L2046.6 1038.4 L2047.9 1034.3 L2049.1 1031.7 L2050.3 1034.1 L2051.6 1028.0 L2052.8 1031.6 L2054.1 1026.7 L2055.3 1028.3 L2056.5 1023.5 L2057.8 1025.5 L2059.0 1029.5 L2060.2 1027.5 L2061.5 1025.2 L2062.7 1034.7 L2063.9 1029.1 L2065.2 1035.9 L2066.5 1026.9 L2067.9 1020.4 L2069.3 1026.7 L2070.6 1017.0 L2072.0 1016.8 L2073.4 1017.5 L2074.8 1009.4 L2076.1 1012.4 L2077.5 1009.9 L2079.1 1010.7 L2080.6 1006.4 L2082.2 1000.1 L2083.7 1004.3 L2085.3 1007.1 L2086.8 1004.6 L2088.3 1001.3 L2089.9 992.6 L2091.4 988.2 L2093.0 984.8 L2094.5 979.6 L2096.1 978.2 L2097.3 973.9 L2098.5 969.9 L2099.8 965.9 L2101.3 974.3 L2102.9 980.4 L2104.4 1009.1 L2106.0 1033.8 L2107.3 1018.7 L2108.6 1006.2 L2110.0 996.0 L2111.5 993.5 L2113.1 984.8 L2114.6 991.7 L2116.2 1004.7 L2117.5 995.4 L2118.8 989.2 L2120.2 979.5 L2121.4 984.1 L2122.6 995.7 L2123.9 999.4 L2125.1 1006.2 L2126.3 1022.4 L2127.6 1024.5 L2128.8 1025.3 L2130.1 1022.9 L2131.3 1025.8 L2132.5 1015.2 L2133.8 1018.0 L2135.1 1012.7 L2136.4 1003.9 L2137.8 997.2 L2139.3 1004.4 L2140.9 1009.9 L2142.4 1008.5 L2144.0 1011.4 L2145.5 1017.6 L2147.0 1009.2 L2148.6 1001.6 L2150.1 993.1 L2151.7 993.4 L2153.2 992.7 L2154.8 1002.6 L2156.0 993.9 L2157.2 1004.1 L2158.5 1003.9 L2159.9 998.0 L2161.3 992.9 L2162.6 986.1 L2164.0 986.9 L2165.6 986.5 L2167.1 987.4 L2168.7 989.6 L2170.2 995.9 L2171.8 997.4 L2173.1 994.0 L2174.4 987.5 L2175.8 985.5 L2177.1 983.7 L2178.4 974.5 L2179.7 977.0 L2181.0 978.9 L2182.6 970.3 L2184.1 968.3 L2185.7 972.6 L2187.2 971.2 L2188.7 971.6 L2190.3 970.9 L2191.8 971.7 L2193.4 966.7 L2194.9 965.8 L2196.5 963.4 L2198.0 961.2 L2199.6 955.1 L2200.8 955.3 L2202.0 957.8 L2203.3 958.4 L2204.5 960.2 L2205.7 959.1 L2207.1 957.5 L2208.4 954.2 L2209.7 951.8 L2211.0 951.7 L2212.4 955.5 L2213.8 951.5 L2215.2 955.3 L2216.6 955.5 L2218.1 961.7 L2219.6 970.3 L2221.2 991.5 L2222.7 988.4 L2224.3 981.6 L2225.8 985.9 L2227.4 1012.1 L2228.9 1014.9 L2230.5 1020.5 L2232.0 993.3 L2233.5 977.7 L2235.1 991.0 L2236.6 999.5 L2238.2 1002.3 L2239.7 997.0 L2241.2 989.9 L2242.6 984.7 L2244.0 983.1 L2245.5 987.6 L2247.1 1005.4 L2248.7 1009.7 L2250.4 1018.3 L2252.0 1033.0 L2253.6 1057.2 L2255.3 1081.7 L2256.9 1067.3 L2258.5 1048.0 L2260.2 1055.0 L2261.8 1061.5 L2263.4 1040.4 L2265.0 1030.1 L2266.7 1016.3 L2268.3 1011.7 L2269.6 1012.3 L2270.9 1012.0 L2272.2 1013.8 L2273.5 1009.2 L2274.7 999.8 L2275.9 999.9 L2277.1 998.2 L2278.5 988.0 L2280.0 983.7 L2281.4 986.9 L2282.8 985.3 L2284.1 977.1 L2285.5 981.4 L2286.9 979.0 L2288.3 985.8 L2289.7 985.9 L2291.2 989.8 L2292.5 982.3 L2293.8 979.0 L2295.1 972.2 L2296.3 971.8 L2297.5 973.9 L2298.7 974.0 L2300.0 979.2 L2301.4 968.0 L2302.8 959.7 L2304.2 954.8 L2305.6 959.7 L2307.0 954.1 L2308.4 956.0 L2309.8 955.2 L2311.1 950.6 L2312.4 953.2 L2313.7 951.6 L2315.0 949.0 L2316.3 946.0 L2317.5 954.7 L2318.7 958.1 L2320.0 967.9 L2321.2 974.1 L2322.4 974.6 L2323.6 972.0 L2324.9 966.6 L2326.1 968.5 L2327.5 975.8 L2328.9 978.6 L2330.2 982.2 L2331.6 991.9 L2333.1 973.0 L2334.5 967.7 L2335.9 961.1 L2337.3 962.2 L2338.7 951.1 L2340.0 954.1 L2341.4 953.5 L2342.8 949.7 L2344.3 934.3 L2345.7 941.2 L2347.1 938.2 L2348.4 939.7 L2349.8 935.5 L2351.2 933.2 L2352.7 933.4 L2354.2 937.8 L2355.6 935.3 L2357.1 931.0 L2358.3 942.2 L2359.5 953.1 L2360.8 961.7 L2362.0 969.3 L2363.2 967.7 L2364.4 967.8 L2365.7 969.1 L2366.9 969.2 L2368.1 965.3 L2369.3 964.9 L2370.6 971.9 L2371.8 963.2 L2373.2 953.8 L2374.6 950.9 L2376.0 949.2 L2377.6 946.0 L2379.1 936.3 L2380.6 930.6 L2381.9 934.2 L2383.2 934.4 L2384.5 937.4 L2385.8 943.4 L2387.1 943.2 L2388.4 950.0 L2389.7 958.2 L2391.0 954.8 L2392.2 947.3 L2393.4 942.6 L2394.6 936.7 L2395.9 936.1 L2397.1 939.5 L2398.3 934.5 L2399.5 920.4 L2401.0 932.0 L2402.5 926.7 L2403.9 919.9 L2405.4 919.1 L2406.9 906.0 L2408.5 909.5 L2410.0 919.9 L2411.3 922.9 L2412.6 921.7 L2413.9 907.9 L2415.2 908.9 L2416.5 914.9 L2417.8 909.4 L2419.1 924.1 L2420.3 911.2 L2421.6 909.9 L2422.8 901.4 L2424.0 901.7 L2425.2 898.7 L2426.5 899.9 L2427.7 891.3 L2428.9 892.4 L2430.1 897.2 L2431.4 887.6 L2432.6 891.0 L2433.8 890.7 L2435.0 884.2 L2436.3 881.1 L2437.5 882.5 L2438.7 878.2 L2440.0 879.8 L2441.3 882.0 L2442.6 881.1 L2444.3 889.4 L2445.9 899.6 L2447.3 888.4 L2448.7 871.8 L2450.1 860.0 L2451.5 863.6 L2453.0 865.7 L2454.4 863.2 L2456.0 904.6 L2457.6 947.4 L2459.3 932.8 L2460.9 914.6 L2462.5 966.5 L2464.2 1007.6 L2466.5 1055.3 L2468.1 1085.7 L2469.7 1110.1 L2472.0 1015.2 L2473.6 1028.3 L2475.3 1049.6 L2476.6 1027.7 L2477.9 989.9 L2479.5 975.5 L2481.1 966.9 L2482.8 980.3 L2484.4 987.3 L2486.0 971.4 L2487.7 954.0 L2489.3 954.3 L2490.9 959.7 L2492.2 963.0 L2493.5 971.4 L2494.8 972.6 L2496.5 956.0 L2498.1 937.7 L2499.7 931.2 L2501.4 927.4 L2502.8 916.9 L2504.2 902.9 L2505.6 889.4 L2507.9 937.5 L2509.3 929.1 L2510.7 923.1 L2512.1 909.2 L2513.8 921.5 L2515.4 936.5 L2517.0 927.4 L2518.7 910.6 L2519.9 908.2 L2521.1 903.6 L2522.4 903.1 L2523.6 905.1 L2524.8 900.6 L2526.0 896.9 L2527.2 884.1 L2528.5 886.7 L2529.7 878.9 L2530.9 880.4 L2532.1 868.8 L2533.4 872.3 L2534.6 868.2 L2535.8 872.6 L2537.0 867.4 L2538.3 868.8 L2539.5 862.5 L2540.7 868.3 L2541.9 860.1 L2543.2 865.6 L2544.8 844.0 L2546.4 827.5 L2547.7 844.0 L2549.0 851.2 L2550.3 863.0 L2551.8 866.0 L2553.3 875.8 L2554.7 884.3 L2556.2 888.8 L2557.4 885.5 L2558.7 871.0 L2559.9 873.7 L2561.1 863.7 L2562.5 860.5 L2563.9 846.6 L2565.4 836.7 L2566.9 842.7 L2568.4 850.4 L2569.9 856.9 L2571.7 869.2 L2573.5 883.6 L2574.8 873.6 L2576.1 861.4 L2577.4 840.1 L2578.8 835.3 L2580.3 830.0 L2581.7 830.7 L2583.1 828.8 L2584.5 826.6 L2585.8 824.8 L2587.2 819.1 L2588.6 822.4 L2590.1 814.7 L2591.5 810.1 L2592.9 819.2 L2594.2 810.1 L2595.6 819.0 L2597.0 816.7 L2598.2 811.1 L2599.5 812.2 L2600.7 807.2 L2601.9 808.1 L2603.1 802.1 L2604.4 796.7 L2605.6 804.6 L2606.8 791.9 L2608.1 795.3 L2609.4 791.7 L2610.7 793.1 L2612.0 786.7 L2613.3 786.4 L2614.8 785.6 L2616.2 804.3 L2617.6 809.2 L2619.0 796.0 L2620.4 793.7 L2621.7 785.1 L2623.1 784.0 L2624.4 777.5 L2625.6 780.3 L2626.8 780.7 L2628.0 782.4 L2629.3 784.9 L2630.5 788.5 L2631.7 796.7 L2632.9 803.4 L2634.2 788.8 L2635.4 781.2 L2636.6 777.2 L2637.8 775.6 L2639.0 772.3 L2640.3 769.9 L2641.5 779.7 L2642.7 782.4 L2643.9 778.6 L2645.2 766.1 L2646.4 764.0 L2647.6 748.7 L2648.8 750.0 L2650.1 744.6 L2651.3 737.2 L2652.5 736.5 L2653.7 742.3 L2655.0 742.8 L2656.2 739.0 L2657.4 744.1 L2658.6 741.3 L2659.9 738.8 L2661.1 734.5 L2662.3 732.0 L2663.9 740.0 L2665.6 753.5 L2666.8 750.1 L2668.0 743.5 L2669.2 740.6 L2670.5 738.0 L2671.8 736.9 L2673.1 738.2 L2674.4 730.7 L2675.7 731.0 L2677.0 731.8 L2678.5 731.9 L2679.9 736.0 L2681.4 735.7 L2682.9 742.7 L2684.3 733.3 L2685.6 725.1 L2687.0 725.3 L2688.4 723.1 L2689.6 710.7 L2690.9 714.0 L2692.1 713.2 L2693.3 714.6 L2694.6 720.5 L2695.9 719.9 L2697.2 719.7 L2698.6 720.3 L2700.1 715.7 L2701.5 708.1 L2702.7 706.0 L2703.9 702.4 L2705.1 711.3 L2706.4 700.0 L2707.6 698.9 L2708.8 706.8 L2710.0 705.5 L2711.3 707.0 L2712.6 703.1 L2713.9 704.2 L2715.2 700.7 L2716.5 691.7 L2717.8 693.2 L2719.1 688.4 L2720.4 688.1 L2721.7 698.5 L2723.0 695.6 L2724.3 691.8 L2725.5 700.4 L2726.8 701.2 L2728.0 707.1 L2729.2 708.1 L2730.5 709.6 L2731.8 713.5 L2733.1 721.8 L2734.4 714.0 L2735.7 714.1 L2737.1 708.0 L2738.4 709.4 L2739.9 706.0 L2741.4 694.9 L2742.9 688.8 L2744.2 682.8 L2745.5 674.3 L2746.8 672.0 L2748.2 669.1 L2749.5 671.1 L2750.9 668.9 L2752.3 673.2 L2753.7 670.2 L2755.0 675.9 L2756.3 679.4 L2757.6 679.5 L2758.9 689.5 L2760.2 690.5 L2761.5 685.2 L2762.7 679.5 L2763.9 667.9 L2765.1 664.4 L2766.4 669.7 L2767.6 679.2 L2768.8 678.4 L2770.0 685.4 L2771.2 673.3 L2772.5 666.3 L2773.7 660.1 L2774.9 657.4 L2776.1 651.9 L2777.4 658.4 L2778.6 662.8 L2779.8 664.6 L2781.4 676.3 L2783.1 691.9 L2784.5 699.2 L2785.9 702.9 L2787.3 718.8 L2788.6 702.8 L2789.9 694.1 L2791.2 691.4 L2792.5 702.5 L2793.9 705.1 L2795.2 707.0 L2796.6 709.9 L2798.0 717.8 L2799.4 736.3 L2800.8 724.1 L2802.2 709.4 L2803.6 714.5 L2805.0 721.3 L2806.3 734.6 L2807.6 741.2 L2808.9 718.7 L2810.2 712.8 L2811.5 704.1 L2812.8 697.2 L2814.1 697.4 L2815.4 681.6 L2816.7 676.6 L2818.2 684.0 L2819.7 690.9 L2821.3 694.0 L2822.6 693.8 L2823.9 688.8 L2825.2 701.7 L2826.5 700.8 L2827.8 710.1 L2829.1 712.4 L2830.4 724.3 L2832.0 733.4 L2833.7 746.1 L2835.0 760.0 L2836.3 769.7 L2837.6 777.7 L2839.0 765.8 L2840.4 754.9 L2841.8 753.2 L2843.1 750.9 L2844.3 740.8 L2845.5 736.5 L2846.7 740.5 L2848.0 755.3 L2849.3 764.8 L2850.7 792.7 L2852.3 791.2 L2853.9 811.9 L2855.5 800.4 L2857.2 787.5 L2858.6 774.5 L2860.0 778.8 L2861.4 785.9 L2862.6 790.3 L2863.9 787.4 L2865.1 792.3 L2866.3 792.6 L2867.6 788.0 L2868.9 772.3 L2870.2 758.1 L2871.7 753.0 L2873.1 752.7 L2874.5 740.1 L2875.9 747.4 L2877.3 745.9 L2878.7 742.0 L2880.4 731.6 L2882.0 724.5 L2883.3 727.5 L2884.6 736.4 L2885.9 741.3 L2887.2 754.0 L2888.5 757.9 L2889.8 770.4 L2891.2 762.5 L2892.7 763.7 L2894.1 756.2 L2895.5 760.4 L2896.9 769.1 L2898.3 780.6 L2899.6 802.0 L2900.9 813.4 L2902.2 827.9 L2903.9 811.3 L2905.5 798.9 L2906.8 816.6 L2908.1 817.7 L2909.4 828.9 L2910.8 826.2 L2912.2 811.1 L2913.7 791.6 L2915.1 795.2 L2916.5 780.3 L2917.9 782.1 L2919.5 782.4 L2921.2 801.3 L2923.4 767.3 L2925.1 770.2"/>
<path filter="url(#sh)" stroke="#c00000" stroke-width="7.8" d="M199.4 1203.8 L201.0 1191.0 L202.7 1201.9 L204.3 1190.1 L205.7 1196.7 L207.2 1185.0 L208.6 1193.1 L210.1 1179.5 L211.6 1189.9 L213.2 1181.5 L214.8 1196.8 L216.4 1188.6 L217.9 1198.7 L219.4 1188.0 L221.0 1197.5 L222.5 1185.5 L224.9 1171.1 L227.3 1190.6 L228.9 1199.5 L230.6 1186.9 L232.2 1196.2 L233.6 1186.4 L235.1 1199.0 L236.6 1189.0 L238.0 1198.3 L239.5 1187.9 L241.0 1201.2 L242.5 1192.0 L244.0 1204.4 L245.5 1191.5 L247.0 1202.6 L248.4 1192.4 L249.9 1202.2 L251.4 1192.3 L252.8 1203.0 L254.3 1191.9 L255.7 1202.3 L257.2 1191.3 L258.6 1199.8 L260.1 1188.2 L261.6 1199.7 L263.0 1188.8 L264.5 1199.8 L265.9 1188.2 L267.4 1198.7 L268.8 1189.3 L270.2 1200.0 L271.5 1187.1 L272.9 1201.1 L274.3 1188.3 L275.7 1199.7 L277.1 1189.4 L278.5 1199.8 L280.0 1186.6 L281.5 1196.3 L282.9 1185.9 L284.4 1195.0 L285.8 1183.8 L287.1 1195.6 L288.5 1183.2 L289.9 1192.7 L291.3 1181.6 L292.7 1193.1 L294.1 1181.7 L295.7 1193.0 L297.3 1183.6 L298.9 1195.1 L300.5 1171.9 L302.1 1171.2 L303.8 1196.2 L304.0 1328.0 L305.0 1263.8 L306.8 1280.3 L308.6 1277.1 L311.1 1192.5 L312.9 1215.4 L314.7 1259.7 L316.3 1224.8 L317.9 1210.0 L319.6 1175.1 L321.4 1224.5 L323.2 1250.9 L325.6 1260.9 L327.5 1265.5 L329.3 1294.0 L331.1 1266.8 L332.9 1263.0 L335.3 1294.3 L337.2 1289.5 L339.0 1260.7 L341.4 1298.4 L342.6 1376.6 L345.0 1317.5 L346.7 1306.8 L348.3 1317.7 L349.9 1309.4 L351.5 1314.3 L353.1 1300.4 L354.8 1309.6 L356.6 1310.8 L358.4 1338.6 L360.2 1339.7 L362.0 1360.0 L364.5 1365.4 L366.9 1422.1 L369.3 1494.0 L370.7 1492.3 L372.0 1469.3 L373.3 1467.2 L374.7 1444.9 L376.0 1441.7 L377.3 1419.1 L378.7 1418.2 L380.0 1396.0 L381.2 1477.1 L383.6 1564.2 L386.1 1661.5 L388.5 1593.2 L390.3 1613.6 L392.1 1613.2 L394.0 1631.0 L395.8 1628.9 L397.4 1614.2 L398.9 1582.7 L400.4 1605.5 L401.8 1608.3 L404.3 1610.2 L406.7 1649.1 L409.1 1705.6 L410.3 1759.9 L412.8 1698.3 L414.6 1719.3 L416.4 1761.7 L418.2 1732.3 L420.0 1723.8 L421.7 1712.1 L423.3 1723.4 L424.9 1713.4 L427.3 1783.7 L429.3 1809.3 L430.7 1806.0 L432.2 1780.9 L433.7 1780.0 L435.2 1760.8 L436.7 1760.3 L438.3 1739.7 L440.7 1792.0 L442.3 1779.8 L443.9 1787.6 L445.5 1773.1 L447.1 1802.8 L448.7 1809.7 L450.1 1805.6 L451.6 1780.4 L453.4 1748.0 L455.2 1697.1 L457.7 1792.8 L459.3 1773.5 L460.9 1773.2 L462.5 1751.5 L464.1 1764.1 L465.8 1756.6 L467.4 1768.0 L469.0 1764.0 L470.6 1779.1 L472.2 1774.1 L473.9 1780.4 L475.5 1769.2 L477.1 1775.7 L478.5 1781.9 L480.0 1806.9 L482.4 1806.4 L483.9 1799.2 L485.3 1774.2 L486.8 1769.5 L489.2 1661.8 L491.7 1646.1 L494.1 1735.3 L496.5 1767.7 L498.9 1686.5 L501.4 1613.4 L503.8 1691.3 L491.7 1800.0 L502.4 1802.7 L492.0 1805.6 L500.9 1808.5 L492.5 1810.9 L502.6 1813.5 L491.7 1815.4 L501.9 1817.5 L490.9 1820.0 L501.4 1822.0 L492.5 1824.9 L502.4 1826.9 L492.3 1828.9 L500.8 1830.9 L491.6 1833.7 L502.8 1835.8 L491.8 1838.6 L501.9 1841.6 L491.8 1844.2 L502.2 1847.1 L493.3 1850.1 L501.5 1852.2 L491.9 1854.2 L501.4 1856.1 L491.7 1858.6 L501.5 1861.2 L493.5 1863.4 L501.4 1865.8 L493.3 1868.2 L502.8 1870.0 L493.5 1871.9 L500.8 1874.7 L492.9 1877.4 L500.8 1879.9 L492.6 1881.8 L501.2 1884.7 L494.3 1887.4 L501.6 1890.4 L493.7 1892.6 L501.2 1895.3 L494.5 1898.0 L501.1 1900.8 L493.3 1903.8 L502.4 1906.0 L494.0 1908.9 L502.3 1911.8 L494.2 1914.0 L501.4 1916.0 L495.1 1918.0 L501.7 1921.0 L495.9 1922.8 L502.2 1925.3 L495.3 1927.3 L502.4 1930.1 L494.4 1932.4 L501.6 1935.3 L496.2 1937.7 L503.1 1939.7 L496.0 1942.6 L501.9 1945.4 L495.2 1947.7 L502.3 1950.5 L497.2 1952.8 L504.2 1955.7 L496.5 1958.0 L504.4 1960.7 L496.7 1962.8 L505.3 1964.8 L498.3 1967.8 L506.9 1970.4 L496.9 1972.6 L508.5 1974.7 L497.9 1977.5 L509.4 1980.3 L498.7 1982.9 L508.6 1985.6 L498.2 1988.3 L509.5 1990.6 L498.4 1993.3 L509.3 1996.2 L498.1 1998.7 L508.5 2001.2 L499.2 2003.8 L509.4 2006.5 L499.2 2009.3 L509.6 2011.9 L499.4 2014.7 L509.9 2017.5 L500.9 2020.1 L509.3 2023.1 L499.5 2025.5 L510.2 2028.3 L502.2 2030.7 L509.8 2033.3 L504.3 2035.3 L509.6 2037.8 L506.1 2040.1 L509.6 2042.9 L505.9 2045.5 L509.4 2047.5 L507.0 2050.1 L509.9 2052.7 L508.1 2054.6 L508.9 2056.7 L508.4 2058.6 L509.3 2060.6 L509.3 2062.5 L510.2 2064.7 L509.5 2067.2 L509.2 2070.1 L510.4 2072.4 L509.5 2074.7 L511.1 2077.5 L510.8 2079.3 L511.6 2081.3 L511.1 2083.5 L512.5 2086.4 L511.9 2088.7 L511.9 2091.3 L511.8 2093.3 L513.3 2095.7 L512.2 2098.7 L513.5 2100.9 L511.5 2102.7 L513.2 2105.2 L512.9 2107.2 L512.3 2110.8 L514.1 2105.3 L515.9 2106.4 L517.7 2093.0 L519.6 2086.7 L521.2 2067.7 L522.8 2054.7 L524.4 2035.0 L525.8 2045.4 L527.2 2049.5 L528.5 2060.1 L530.5 2117.4 L532.1 2121.3 L533.7 2119.5 L535.3 2123.6 L537.0 2124.2 L538.6 2131.1 L540.2 2131.9 L541.8 2133.9 L543.4 2129.2 L545.0 2130.0 L546.9 2125.4 L548.7 2124.9 L551.1 2108.4 L552.9 2111.6 L554.8 2111.0 L556.4 2110.3 L558.0 2106.2 L559.6 2105.9 L561.2 2103.3 L562.8 2105.1 L564.5 2102.4 L566.3 2108.8 L568.1 2110.7 L569.7 2113.9 L571.3 2112.7 L573.0 2115.5 L574.2 2123.0 L576.0 2119.5 L577.8 2112.3 L579.4 2117.2 L581.1 2117.8 L582.7 2122.5 L584.5 2122.5 L586.3 2126.2 L587.9 2123.7 L589.5 2125.5 L591.2 2123.2 L593.0 2122.9 L594.8 2118.4 L596.6 2115.3 L598.4 2108.7 L600.3 2114.3 L602.1 2116.0 L603.7 2120.3 L605.3 2120.8 L606.9 2125.1 L608.6 2119.3 L610.2 2117.9 L611.8 2112.1 L613.4 2115.4 L615.0 2114.6 L616.7 2117.9 L618.1 2111.5 L619.6 2108.9 L621.0 2102.5 L622.4 2107.5 L623.8 2107.8 L625.1 2112.8 L627.0 2109.9 L628.8 2110.7 L630.6 2116.9 L632.4 2127.3 L634.0 2122.9 L635.7 2122.9 L637.3 2118.2 L639.1 2119.0 L640.9 2115.7 L642.4 2119.3 L644.0 2118.3 L645.5 2121.4 L647.0 2120.8 L648.6 2121.9 L650.2 2119.0 L651.8 2120.1 L653.5 2119.1 L655.1 2121.6 L656.7 2120.7 L658.2 2122.0 L659.7 2118.7 L661.2 2119.8 L662.8 2116.7 L664.6 2122.0 L666.4 2123.2 L668.2 2131.6 L670.0 2136.6 L671.9 2131.6 L673.7 2123.2 L675.1 2126.3 L676.6 2125.1 L678.1 2127.9 L679.5 2126.9 L681.0 2130.2 L682.5 2126.8 L684.0 2127.7 L685.5 2124.3 L687.0 2125.1 L688.6 2124.5 L690.1 2128.4 L691.6 2127.5 L693.1 2131.2 L694.6 2128.2 L696.0 2129.7 L697.5 2127.0 L698.9 2128.5 L700.4 2125.4 L701.9 2126.8 L703.4 2123.7 L704.9 2125.0 L706.5 2121.8 L708.3 2126.8 L710.1 2127.7 L711.6 2136.0 L713.0 2140.1 L714.6 2135.9 L716.2 2128.1 L717.7 2128.9 L719.2 2126.0 L720.7 2127.1 L722.2 2124.4 L723.7 2125.8 L725.1 2123.3 L726.6 2124.8 L728.1 2122.2 L729.5 2123.8 L731.0 2122.5 L732.5 2125.1 L734.1 2123.8 L735.6 2126.2 L737.4 2126.9 L739.2 2131.3 L741.0 2123.8 L742.9 2120.4 L744.5 2115.9 L746.1 2115.5 L747.7 2110.8 L749.5 2117.8 L751.4 2120.4 L753.2 2128.8 L755.0 2132.7 L757.4 2115.2 L759.0 2111.8 L760.7 2112.1 L762.3 2108.5 L763.8 2111.7 L765.3 2110.1 L766.8 2113.1 L768.3 2112.0 L769.7 2114.2 L771.1 2111.7 L772.5 2113.5 L773.9 2111.2 L775.3 2113.3 L776.7 2110.8 L778.1 2113.2 L779.4 2111.1 L780.8 2113.9 L782.2 2112.2 L783.6 2114.5 L785.0 2112.7 L786.4 2114.9 L787.8 2113.4 L789.3 2116.4 L790.8 2115.4 L792.3 2118.1 L793.8 2116.8 L795.7 2126.9 L797.5 2132.7 L799.3 2127.4 L801.1 2117.9 L802.5 2119.3 L803.9 2116.4 L805.3 2117.7 L806.7 2115.0 L808.1 2116.2 L809.4 2113.1 L810.8 2114.4 L812.3 2113.4 L813.9 2117.4 L815.4 2116.5 L816.9 2120.2 L818.3 2117.0 L819.8 2117.8 L821.3 2114.3 L822.7 2115.2 L824.2 2112.3 L825.6 2114.1 L826.9 2111.3 L828.3 2113.3 L829.7 2110.5 L831.1 2112.5 L832.5 2109.9 L833.9 2111.7 L835.4 2110.4 L836.9 2113.4 L838.4 2112.5 L840.0 2115.4 L841.9 2122.9 L843.3 2120.2 L844.8 2113.2 L846.2 2115.4 L847.6 2113.0 L849.1 2114.6 L850.5 2112.8 L851.9 2114.6 L853.3 2112.1 L854.8 2115.4 L856.3 2114.5 L857.9 2117.6 L859.4 2117.1 L861.0 2116.5 L862.6 2112.2 L864.2 2112.0 L865.6 2110.2 L867.1 2112.4 L868.5 2110.7 L869.9 2113.4 L871.3 2112.0 L872.7 2114.3 L875.1 2120.5 L876.8 2119.1 L878.4 2113.2 L880.0 2111.7 L881.5 2115.0 L883.1 2122.2 L884.6 2125.1 L886.0 2125.4 L887.5 2121.3 L888.9 2121.2 L890.3 2117.1 L891.7 2117.2 L893.1 2115.6 L894.4 2118.2 L895.7 2116.4 L897.0 2119.0 L898.4 2117.4 L899.7 2120.1 L901.0 2118.4 L902.3 2120.7 L903.7 2119.1 L905.0 2121.6 L906.3 2120.0 L907.6 2122.6 L908.9 2121.0 L910.3 2123.8 L911.6 2122.4 L912.9 2124.8 L914.2 2123.1 L915.6 2125.7 L916.9 2124.1 L918.2 2126.7 L919.5 2124.9 L920.8 2127.9 L922.2 2126.8 L923.5 2129.6 L924.8 2128.7 L926.1 2131.4 L927.5 2130.6 L928.8 2133.4 L930.1 2132.0 L931.4 2135.1 L932.8 2132.9 L934.1 2134.7 L935.4 2132.4 L936.7 2134.2 L938.0 2132.1 L939.4 2134.0 L940.7 2131.5 L942.0 2133.3 L943.3 2130.9 L944.7 2133.2 L946.1 2130.7 L947.5 2132.3 L948.9 2130.4 L950.3 2132.4 L951.7 2130.1 L953.1 2131.6 L954.4 2129.4 L955.8 2131.2 L957.2 2128.9 L958.6 2131.6 L960.1 2130.3 L961.5 2132.9 L962.9 2131.6 L964.3 2134.2 L965.7 2132.6 L967.1 2135.3 L968.5 2133.6 L969.8 2136.3 L971.1 2134.9 L972.4 2138.0 L973.8 2136.5 L975.1 2139.2 L976.4 2137.9 L977.7 2140.5 L979.0 2138.9 L980.5 2135.6 L982.0 2128.1 L983.5 2124.6 L985.0 2117.0 L986.3 2124.0 L987.6 2126.3 L989.0 2133.0 L990.4 2131.1 L991.7 2133.2 L993.1 2131.4 L994.5 2133.5 L995.9 2131.5 L997.3 2133.7 L998.7 2132.0 L1000.1 2134.1 L1001.5 2132.2 L1002.9 2134.1 L1004.3 2132.9 L1005.7 2136.0 L1007.1 2134.4 L1008.5 2137.3 L1009.9 2135.8 L1011.4 2138.3 L1012.8 2137.1 L1014.2 2139.0 L1015.6 2136.1 L1016.9 2138.0 L1018.3 2135.7 L1019.7 2137.1 L1021.1 2134.9 L1022.5 2136.1 L1023.9 2133.9 L1025.3 2135.4 L1026.7 2133.3 L1028.1 2135.0 L1029.4 2132.5 L1030.8 2134.8 L1032.2 2132.1 L1033.6 2134.1 L1035.0 2132.1 L1036.4 2134.0 L1037.8 2131.5 L1039.2 2133.3 L1040.6 2130.9 L1041.9 2134.0 L1043.3 2132.5 L1044.7 2135.7 L1046.1 2134.0 L1047.5 2137.0 L1048.9 2135.6 L1050.3 2138.8 L1051.7 2137.3 L1053.1 2140.2 L1054.4 2139.2 L1055.8 2140.1 L1057.1 2137.4 L1058.4 2138.7 L1059.7 2135.7 L1061.1 2136.6 L1062.4 2133.7 L1063.7 2134.8 L1065.0 2132.1 L1066.3 2133.1 L1067.8 2130.7 L1069.2 2131.8 L1070.6 2129.3 L1072.0 2131.0 L1073.4 2128.4 L1074.9 2130.0 L1076.3 2127.1 L1077.8 2130.6 L1079.2 2129.9 L1080.7 2133.5 L1082.2 2132.9 L1083.6 2133.9 L1085.1 2130.5 L1086.5 2131.1 L1087.9 2127.5 L1089.3 2128.1 L1090.7 2124.4 L1092.1 2125.2 L1093.6 2125.3 L1095.1 2129.0 L1096.6 2128.9 L1098.1 2133.2 L1099.6 2128.0 L1101.1 2127.3 L1102.6 2121.9 L1104.0 2121.5 L1105.5 2121.0 L1107.0 2125.2 L1108.5 2124.9 L1110.0 2129.1 L1111.3 2126.2 L1112.6 2127.0 L1114.0 2124.0 L1115.3 2125.0 L1116.6 2121.6 L1117.9 2122.4 L1119.3 2120.4 L1120.6 2122.1 L1121.9 2120.0 L1123.2 2122.1 L1124.6 2120.0 L1125.9 2121.6 L1127.2 2119.6 L1128.5 2121.6 L1129.8 2119.2 L1131.2 2120.6 L1132.5 2117.6 L1133.8 2119.2 L1135.1 2116.6 L1136.5 2117.9 L1137.8 2115.4 L1139.4 2122.7 L1141.0 2125.9 L1142.5 2133.2 L1144.3 2125.4 L1146.0 2121.9 L1147.7 2113.9 L1149.0 2119.8 L1150.3 2121.2 L1151.7 2127.5 L1153.0 2124.9 L1154.4 2127.2 L1155.8 2125.0 L1157.1 2127.0 L1158.5 2124.7 L1159.9 2126.9 L1161.2 2124.7 L1162.6 2126.8 L1163.9 2124.8 L1165.3 2126.5 L1166.7 2124.5 L1168.0 2126.5 L1169.4 2124.5 L1170.8 2126.7 L1172.1 2124.2 L1173.5 2126.7 L1174.8 2122.6 L1176.1 2122.9 L1177.5 2119.0 L1178.9 2124.0 L1180.4 2125.2 L1181.9 2130.4 L1183.4 2130.9 L1184.9 2130.3 L1186.4 2125.0 L1187.9 2124.1 L1189.4 2119.4 L1190.8 2120.9 L1192.2 2118.4 L1193.6 2120.2 L1195.0 2118.2 L1196.5 2119.9 L1197.9 2117.7 L1199.3 2119.5 L1200.7 2117.7 L1202.1 2119.6 L1203.5 2117.8 L1205.0 2120.2 L1206.4 2118.8 L1207.8 2120.9 L1209.2 2119.0 L1210.5 2121.0 L1211.9 2118.7 L1213.2 2120.7 L1214.5 2118.2 L1215.8 2120.3 L1217.1 2118.1 L1218.5 2119.7 L1219.8 2117.6 L1221.1 2119.4 L1222.4 2117.1 L1223.8 2118.5 L1225.1 2116.5 L1226.4 2124.1 L1227.7 2127.8 L1229.0 2135.2 L1230.5 2130.3 L1232.0 2129.1 L1233.5 2124.4 L1235.0 2123.4 L1236.3 2121.5 L1237.6 2124.3 L1239.0 2122.6 L1240.3 2124.9 L1241.6 2123.1 L1242.9 2126.1 L1244.3 2124.0 L1245.6 2126.7 L1246.9 2125.0 L1248.3 2126.6 L1249.7 2123.6 L1251.2 2125.2 L1252.6 2122.3 L1254.0 2123.8 L1255.4 2121.2 L1256.8 2122.5 L1258.1 2121.2 L1259.5 2123.6 L1260.8 2122.1 L1262.1 2124.4 L1263.4 2122.9 L1264.8 2125.7 L1266.1 2124.2 L1267.4 2126.9 L1268.7 2124.9 L1270.1 2126.4 L1271.4 2123.5 L1272.7 2124.6 L1274.0 2122.1 L1275.3 2123.5 L1276.7 2120.4 L1278.0 2123.3 L1279.3 2121.7 L1280.6 2123.8 L1282.0 2122.7 L1283.3 2124.9 L1284.6 2123.4 L1285.9 2126.4 L1287.2 2124.5 L1288.6 2127.3 L1289.9 2126.5 L1291.2 2129.8 L1292.5 2129.3 L1293.9 2132.5 L1295.2 2132.0 L1296.5 2135.3 L1297.8 2132.6 L1299.2 2134.2 L1300.5 2131.6 L1301.8 2133.3 L1303.1 2130.7 L1304.4 2132.6 L1305.8 2129.9 L1307.1 2131.7 L1308.4 2129.0 L1309.7 2131.9 L1311.1 2129.9 L1312.4 2132.8 L1313.7 2131.0 L1315.0 2133.7 L1316.3 2132.1 L1317.7 2134.6 L1319.0 2132.3 L1320.3 2134.3 L1321.6 2132.3 L1323.0 2134.6 L1324.3 2132.7 L1325.6 2135.0 L1326.9 2132.9 L1328.3 2134.9 L1329.6 2133.0 L1330.9 2135.1 L1332.2 2133.1 L1333.5 2134.9 L1334.9 2133.0 L1336.2 2135.1 L1337.5 2133.1 L1338.8 2135.3 L1340.2 2133.6 L1341.5 2135.6 L1342.8 2133.7 L1344.1 2135.8 L1345.4 2134.0 L1346.8 2136.4 L1348.1 2134.2 L1349.4 2136.4 L1350.7 2134.6 L1352.1 2136.5 L1353.4 2134.8 L1354.7 2137.2 L1356.0 2135.3 L1357.4 2136.2 L1358.7 2132.9 L1360.0 2134.1 L1361.3 2131.2 L1362.6 2132.3 L1364.0 2129.3 L1365.3 2132.1 L1366.6 2131.0 L1367.9 2134.2 L1369.3 2133.3 L1370.6 2136.0 L1371.9 2135.1 L1373.2 2137.2 L1374.6 2135.0 L1375.9 2136.9 L1377.2 2134.6 L1378.5 2136.5 L1379.8 2134.5 L1381.2 2136.5 L1382.5 2134.4 L1383.8 2136.2 L1385.1 2134.0 L1386.5 2135.7 L1387.8 2133.8 L1389.1 2135.5 L1390.4 2133.6 L1391.7 2135.3 L1393.1 2133.3 L1394.4 2135.4 L1395.7 2132.9 L1397.0 2135.7 L1398.4 2133.9 L1399.7 2136.4 L1401.0 2134.6 L1402.3 2137.0 L1403.7 2135.2 L1405.0 2137.8 L1406.3 2136.0 L1407.6 2138.6 L1408.9 2136.3 L1410.3 2138.6 L1411.6 2136.6 L1412.9 2138.7 L1414.2 2136.7 L1415.6 2138.7 L1416.9 2136.8 L1418.2 2139.0 L1419.5 2136.8 L1420.8 2138.9 L1422.2 2136.8 L1423.5 2138.9 L1424.8 2136.7 L1426.1 2138.3 L1427.5 2136.3 L1428.8 2137.7 L1430.1 2135.2 L1431.4 2136.9 L1432.8 2134.6 L1434.1 2136.5 L1435.4 2133.9 L1436.7 2136.0 L1438.0 2133.6 L1439.4 2135.4 L1440.7 2133.1 L1442.0 2134.6 L1443.3 2132.7 L1444.7 2134.6 L1446.0 2132.2 L1447.3 2134.3 L1448.6 2132.1 L1449.9 2133.8 L1451.3 2131.7 L1452.6 2133.8 L1453.9 2131.2 L1455.2 2133.3 L1456.6 2131.1 L1457.9 2133.0 L1459.2 2131.3 L1460.5 2133.0 L1461.9 2131.0 L1463.2 2133.0 L1464.5 2131.1 L1465.8 2133.1 L1467.1 2131.3 L1468.5 2133.1 L1469.8 2131.1 L1471.1 2133.4 L1472.4 2131.0 L1473.8 2133.1 L1475.1 2131.2 L1476.4 2133.0 L1477.7 2131.2 L1479.0 2133.2 L1480.4 2131.0 L1481.7 2133.2 L1483.0 2131.6 L1484.3 2133.6 L1485.7 2131.6 L1487.0 2133.6 L1488.3 2132.1 L1489.6 2134.1 L1491.0 2132.3 L1492.3 2134.5 L1493.6 2132.2 L1494.9 2134.5 L1496.2 2132.3 L1497.6 2134.7 L1498.9 2132.5 L1500.2 2134.8 L1501.5 2133.2 L1502.9 2135.1 L1504.2 2133.1 L1505.5 2135.3 L1506.8 2133.3 L1508.1 2135.3 L1509.5 2133.2 L1510.8 2135.4 L1512.1 2132.9 L1513.4 2135.3 L1514.8 2133.3 L1516.1 2134.9 L1517.4 2133.3 L1518.7 2135.1 L1520.1 2133.3 L1521.4 2135.0 L1522.7 2133.3 L1524.0 2135.4 L1525.3 2133.1 L1526.7 2135.0 L1528.0 2133.3 L1529.3 2135.1 L1530.6 2133.3 L1532.0 2135.3 L1533.3 2132.9 L1534.6 2135.3 L1535.9 2133.1 L1537.2 2134.9 L1538.6 2132.4 L1539.9 2134.5 L1541.2 2132.1 L1542.5 2133.9 L1543.9 2131.9 L1545.2 2134.0 L1546.5 2131.6 L1547.8 2133.3 L1549.2 2131.0 L1550.5 2133.3 L1551.8 2130.6 L1553.1 2132.0 L1554.4 2129.3 L1555.8 2130.6 L1557.1 2127.7 L1558.4 2129.3 L1559.7 2126.5 L1561.1 2128.1 L1562.4 2125.2 L1563.7 2127.3 L1565.0 2126.0 L1566.3 2128.0 L1567.7 2126.3 L1569.0 2128.7 L1570.3 2126.9 L1572.3 2143.1 L1573.6 2136.2 L1574.9 2133.3 L1576.3 2125.7 L1577.6 2128.1 L1578.9 2126.3 L1580.2 2128.5 L1581.6 2126.9 L1582.9 2128.8 L1584.2 2126.9 L1586.2 2141.0 L1587.5 2135.2 L1588.8 2133.0 L1590.2 2127.2 L1591.5 2129.6 L1592.8 2127.7 L1594.1 2129.6 L1595.4 2128.2 L1596.8 2130.3 L1598.1 2128.5 L1600.1 2141.3 L1601.4 2135.2 L1602.7 2133.9 L1604.0 2128.3 L1605.4 2130.4 L1606.7 2127.9 L1608.0 2129.7 L1609.3 2127.3 L1610.7 2129.7 L1612.0 2127.3 L1614.0 2141.3 L1615.3 2134.9 L1616.6 2132.6 L1617.9 2126.0 L1619.3 2128.1 L1620.6 2125.9 L1621.9 2127.5 L1623.2 2125.5 L1624.6 2127.4 L1625.9 2125.0 L1627.3 2132.0 L1628.7 2135.3 L1630.2 2132.1 L1631.8 2125.4 L1633.1 2127.5 L1634.5 2125.1 L1635.8 2127.1 L1637.1 2125.2 L1638.4 2127.1 L1639.8 2125.2 L1641.2 2132.1 L1642.5 2135.0 L1644.1 2131.6 L1645.7 2124.3 L1647.0 2126.5 L1648.4 2123.8 L1649.7 2125.6 L1651.0 2123.6 L1652.3 2125.6 L1653.7 2123.4 L1655.2 2131.4 L1656.8 2135.3 L1658.2 2131.0 L1659.6 2123.4 L1660.9 2125.4 L1662.2 2123.4 L1663.6 2125.2 L1664.9 2123.1 L1666.2 2125.2 L1667.5 2122.9 L1669.1 2131.2 L1670.7 2135.3 L1672.1 2130.5 L1673.5 2122.2 L1674.9 2124.1 L1676.3 2121.9 L1677.7 2123.8 L1679.2 2121.6 L1680.6 2123.5 L1682.0 2121.3 L1683.4 2123.1 L1685.0 2128.1 L1686.6 2137.2 L1688.0 2128.4 L1689.4 2124.2 L1690.7 2122.4 L1692.0 2124.6 L1693.3 2122.7 L1694.7 2125.1 L1696.0 2122.9 L1697.3 2125.1 L1698.9 2130.1 L1700.5 2139.2 L1701.9 2130.7 L1703.3 2126.4 L1704.6 2124.4 L1705.9 2126.7 L1707.2 2124.6 L1708.5 2126.9 L1709.9 2125.0 L1711.2 2127.0 L1712.8 2131.0 L1714.4 2138.9 L1715.8 2131.3 L1717.1 2128.0 L1718.5 2125.9 L1719.8 2128.0 L1721.1 2125.9 L1722.4 2127.8 L1723.8 2126.1 L1725.1 2128.0 L1726.7 2130.6 L1728.3 2137.2 L1729.6 2130.1 L1731.0 2127.5 L1732.5 2124.1 L1734.0 2125.0 L1735.5 2122.1 L1737.0 2123.2 L1737.8 2081.7 L1740.3 2082.5 L1741.0 2115.0 L1741.8 2082.5 L1742.6 2115.0 L1743.4 2082.5 L1744.1 2115.0 L1744.9 2082.5 L1745.7 2115.0 L1746.5 2082.5 L1747.2 2082.5 L1748.7 2082.5 L1750.2 2082.5 L1751.7 2082.5 L1753.2 2082.5 L1754.7 2082.5 L1756.2 2082.5 L1757.1 2099.5 L1758.4 2099.5 L1759.3 2082.5 L1760.8 2082.5 L1762.2 2082.5 L1763.7 2082.5 L1765.1 2082.5 L1766.6 2082.5 L1768.1 2082.5 L1769.5 2082.5 L1770.4 2099.5 L1771.7 2099.5 L1772.6 2082.5 L1774.0 2082.5 L1775.5 2082.5 L1776.9 2082.5 L1778.3 2082.5 L1779.8 2082.5 L1781.2 2082.5 L1782.6 2082.5 L1784.1 2082.5 L1785.0 2099.5 L1786.2 2099.5 L1787.2 2082.5 L1788.6 2082.5 L1789.9 2082.5 L1791.3 2082.5 L1792.7 2082.5 L1794.1 2082.5 L1795.5 2082.5 L1796.9 2082.5 L1798.3 2082.5 L1799.2 2099.5 L1800.5 2099.5 L1801.4 2082.5 L1802.8 2082.5 L1804.2 2082.5 L1805.5 2082.5 L1806.9 2082.5 L1808.3 2082.5 L1809.7 2082.5 L1811.0 2082.5 L1812.4 2082.5 L1813.8 2082.5 L1814.7 2099.5 L1815.9 2099.5 L1816.9 2082.5 L1818.2 2082.5 L1819.6 2082.5 L1821.0 2082.5 L1822.3 2082.5 L1823.7 2082.5 L1825.2 2076.3 L1826.8 2076.3 L1827.7 2094.8 L1828.9 2094.8 L1829.9 2076.3 L1831.3 2076.3 L1832.7 2076.3 L1834.2 2076.3 L1835.6 2076.3 L1837.0 2076.3 L1838.5 2076.3 L1839.9 2076.3 L1841.3 2076.3 L1842.3 2094.8 L1843.5 2094.8 L1844.4 2076.3 L1845.7 2076.3 L1847.0 2076.3 L1848.3 2076.3 L1849.6 2076.3 L1851.0 2076.3 L1852.3 2076.3 L1853.6 2076.3 L1854.9 2076.3 L1856.2 2076.3 L1857.1 2094.8 L1858.3 2094.8 L1859.3 2076.3 L1860.6 2076.3 L1862.0 2076.3 L1863.3 2076.3 L1864.7 2076.3 L1866.0 2076.3 L1867.4 2076.3 L1868.8 2076.3 L1870.1 2076.3 L1871.0 2094.8 L1872.3 2094.8 L1873.2 2076.3 L1874.6 2076.3 L1876.0 2076.3 L1877.3 2076.3 L1878.7 2076.3 L1880.1 2076.3 L1881.5 2076.3 L1882.8 2076.3 L1884.2 2076.3 L1885.6 2076.3 L1886.5 2094.8 L1887.7 2094.8 L1888.7 2076.3 L1890.0 2076.3 L1891.4 2076.3 L1892.7 2076.3 L1894.1 2076.3 L1895.4 2076.3 L1896.8 2076.3 L1898.2 2076.3 L1899.5 2076.3 L1900.4 2094.8 L1901.7 2094.8 L1902.6 2076.3 L1904.2 2076.3 L1905.7 2076.3 L1907.2 2076.3 L1907.6 2029.9 L1908.2 2051.5 L1909.0 2029.9 L1909.7 2051.5 L1910.5 2029.9 L1911.3 2051.5 L1912.0 2029.9 L1912.8 2051.5 L1913.6 2029.9 L1914.4 2051.5 L1915.1 2029.9 L1915.9 2051.5 L1916.7 2029.9 L1917.5 2051.5 L1918.2 2029.9 L1918.7 2029.9 L1920.1 2029.9 L1921.4 2029.9 L1922.8 2029.9 L1924.2 2029.9 L1925.6 2029.9 L1926.9 2029.9 L1928.3 2029.9 L1929.2 2046.9 L1930.5 2046.9 L1931.4 2029.9 L1932.8 2029.9 L1934.2 2029.9 L1935.6 2029.9 L1937.0 2029.9 L1938.5 2029.9 L1939.9 2029.9 L1941.3 2029.9 L1942.2 2046.9 L1943.5 2046.9 L1944.4 2029.9 L1945.7 2029.9 L1947.0 2029.9 L1948.3 2029.9 L1949.7 2029.9 L1950.6 2029.9 L1950.9 1985.0 L1951.5 2002.0 L1952.3 1985.0 L1953.1 2002.0 L1953.8 1985.0 L1954.6 2002.0 L1955.4 1985.0 L1956.1 2002.0 L1956.9 1985.0 L1957.7 2002.0 L1958.5 1985.0 L1959.2 2002.0 L1960.0 1985.0 L1960.8 1985.0 L1962.3 1985.0 L1963.8 1985.0 L1965.3 1985.0 L1966.8 1985.0 L1968.3 1985.0 L1969.8 1985.0 L1970.7 2000.5 L1971.9 2000.5 L1972.9 1985.0 L1974.2 1985.0 L1975.6 1985.0 L1977.0 1985.0 L1978.4 1985.0 L1979.7 1985.0 L1981.1 1985.0 L1982.5 1985.0 L1983.9 1985.0 L1985.2 1985.0 L1986.2 2000.5 L1987.4 2000.5 L1988.3 1985.0 L1989.9 1985.0 L1991.4 1985.0 L1993.0 1985.0 L1993.9 1985.0 L1994.2 1938.6 L1994.8 1958.7 L1995.6 1938.6 L1996.4 1958.7 L1997.2 1938.6 L1997.9 1958.7 L1998.7 1938.6 L1999.5 1958.7 L2000.3 1938.6 L2001.0 1958.7 L2001.8 1938.6 L2003.2 1938.6 L2004.6 1938.6 L2006.0 1938.6 L2007.4 1938.6 L2008.9 1938.6 L2010.3 1938.6 L2011.7 1938.6 L2013.1 1938.6 L2014.0 1957.1 L2015.3 1957.1 L2016.2 1938.6 L2017.5 1938.6 L2018.8 1938.6 L2020.1 1938.6 L2021.4 1938.6 L2022.7 1938.6 L2024.0 1938.6 L2025.3 1938.6 L2026.6 1938.6 L2028.0 1938.6 L2028.9 1957.1 L2030.1 1957.1 L2031.0 1938.6 L2032.5 1938.6 L2033.9 1938.6 L2035.3 1938.6 L2036.8 1938.6 L2038.2 1938.6 L2039.6 1938.6 L2041.1 1938.6 L2042.5 1938.6 L2043.4 1957.1 L2044.7 1957.1 L2045.6 1938.6 L2046.9 1938.6 L2048.2 1938.6 L2049.5 1938.6 L2050.8 1938.6 L2052.1 1938.6 L2053.4 1938.6 L2054.7 1938.6 L2056.1 1938.6 L2057.4 1938.6 L2058.3 1957.1 L2059.5 1957.1 L2060.5 1938.6 L2061.8 1938.6 L2063.2 1938.6 L2064.5 1938.6 L2065.9 1938.6 L2067.2 1938.6 L2068.6 1938.6 L2069.9 1938.6 L2071.3 1938.6 L2072.2 1957.1 L2073.5 1957.1 L2074.4 1938.6 L2076.2 1938.6 L2078.1 1938.6 L2079.0 1938.6 L2079.3 1892.1 L2080.0 1909.1 L2080.7 1892.1 L2081.5 1909.1 L2082.3 1892.1 L2083.0 1909.1 L2083.8 1892.1 L2084.6 1909.1 L2085.4 1892.1 L2086.1 1909.1 L2086.9 1892.1 L2087.7 1909.1 L2088.5 1892.1 L2089.2 1892.1 L2090.7 1892.1 L2092.1 1892.1 L2093.5 1892.1 L2095.0 1892.1 L2096.4 1892.1 L2097.8 1892.1 L2099.3 1892.1 L2100.7 1892.1 L2101.6 1907.6 L2102.9 1907.6 L2103.8 1892.1 L2105.2 1892.1 L2106.7 1892.1 L2108.2 1892.1 L2109.6 1892.1 L2111.1 1892.1 L2112.5 1892.1 L2114.0 1892.1 L2114.9 1907.6 L2116.2 1907.6 L2117.1 1892.1 L2118.5 1892.1 L2119.8 1892.1 L2121.2 1892.1 L2122.5 1892.1 L2123.9 1892.1 L2124.8 1892.1 L2125.1 1845.7 L2126.5 1845.4 L2128.0 1845.0 L2129.4 1844.7 L2130.8 1844.3 L2132.2 1844.0 L2133.6 1843.6 L2135.0 1843.3 L2136.4 1842.9 L2137.8 1842.6 L2139.2 1842.5 L2140.6 1842.3 L2142.0 1842.2 L2143.5 1842.0 L2144.9 1841.9 L2146.3 1841.8 L2147.7 1841.6 L2149.1 1841.5 L2150.5 1841.3 L2151.9 1841.2 L2153.3 1841.1 L2154.7 1841.1 L2156.1 1841.1 L2157.4 1841.1 L2158.8 1841.1 L2160.2 1841.1 L2161.6 1841.1 L2162.9 1841.1 L2164.3 1841.1 L2165.7 1841.1 L2166.0 1803.9 L2167.3 1803.9 L2168.6 1803.8 L2169.9 1803.7 L2171.2 1803.7 L2172.5 1803.6 L2173.8 1803.5 L2175.1 1803.5 L2176.4 1803.4 L2177.7 1803.3 L2179.0 1803.3 L2180.3 1803.2 L2181.6 1803.1 L2182.9 1803.1 L2184.3 1803.0 L2185.7 1802.9 L2187.1 1802.9 L2188.5 1802.8 L2189.9 1802.8 L2191.3 1802.7 L2192.7 1802.7 L2194.1 1802.6 L2195.5 1802.5 L2196.9 1802.5 L2198.3 1802.4 L2199.7 1802.4 L2201.1 1802.3 L2202.4 1802.3 L2203.7 1802.2 L2205.0 1802.1 L2206.3 1802.1 L2207.7 1802.0 L2209.0 1802.0 L2210.3 1801.9 L2211.6 1801.9 L2213.0 1801.8 L2214.3 1801.8 L2214.6 1752.9 L2215.9 1752.7 L2217.3 1752.6 L2218.6 1752.5 L2219.9 1752.4 L2221.3 1752.3 L2222.6 1752.2 L2224.0 1752.1 L2225.3 1752.0 L2226.7 1751.9 L2228.0 1751.8 L2229.3 1751.7 L2230.7 1751.6 L2232.1 1751.6 L2233.5 1751.6 L2234.9 1751.5 L2236.3 1751.5 L2237.7 1751.5 L2239.1 1751.4 L2240.5 1751.4 L2241.9 1751.4 L2243.3 1751.4 L2244.7 1751.3 L2246.2 1751.3 L2247.5 1751.3 L2248.9 1751.3 L2250.3 1751.3 L2251.7 1751.3 L2253.1 1751.3 L2254.5 1751.3 L2254.8 1714.2 L2256.1 1714.2 L2257.4 1714.2 L2258.8 1714.2 L2260.1 1714.2 L2261.4 1714.2 L2262.7 1714.2 L2264.0 1714.2 L2265.3 1714.2 L2266.6 1714.2 L2267.9 1714.2 L2269.2 1714.2 L2270.5 1714.2 L2271.9 1714.2 L2273.2 1714.2 L2274.5 1714.2 L2275.8 1714.2 L2277.1 1714.2 L2278.4 1714.2 L2279.8 1714.2 L2281.1 1714.2 L2282.5 1714.2 L2283.8 1714.2 L2285.2 1714.2 L2286.5 1714.2 L2287.9 1714.2 L2289.2 1714.2 L2290.6 1714.2 L2291.9 1714.2 L2293.3 1714.2 L2294.6 1714.2 L2295.9 1714.2 L2297.3 1714.2 L2298.6 1714.2 L2300.0 1714.2 L2301.3 1714.2 L2302.7 1714.2 L2304.0 1714.2 L2305.4 1714.2 L2306.7 1714.2 L2308.1 1714.2 L2309.6 1711.6 L2311.1 1709.0 L2312.7 1706.4 L2314.2 1708.0 L2315.8 1709.5 L2317.3 1711.1 L2318.9 1712.6 L2320.4 1714.2 L2322.0 1714.8 L2323.5 1715.4 L2325.1 1716.0 L2326.6 1716.6 L2328.2 1717.3 L2329.7 1717.6 L2331.3 1717.9 L2332.8 1718.2 L2334.4 1718.5 L2335.9 1718.8 L2337.3 1717.8 L2338.6 1716.9 L2340.0 1715.9 L2341.3 1714.9 L2342.7 1714.0 L2344.0 1713.0 L2345.4 1712.0 L2346.7 1711.1 L2348.1 1711.6 L2349.4 1712.2 L2350.8 1712.8 L2352.2 1713.4 L2353.5 1714.0 L2354.9 1714.5 L2356.2 1715.1 L2357.6 1715.7 L2359.1 1715.7 L2359.4 1763.7 L2360.7 1763.7 L2362.1 1763.7 L2363.4 1763.7 L2364.7 1763.7 L2366.0 1763.7 L2367.3 1763.7 L2368.6 1763.7 L2370.0 1763.7 L2371.3 1763.6 L2372.6 1763.5 L2373.9 1763.4 L2375.3 1763.3 L2376.6 1763.2 L2377.9 1763.2 L2379.2 1763.1 L2380.8 1732.7 L2382.3 1734.3 L2382.6 1814.8 L2383.7 1814.8 L2385.1 1812.4 L2386.5 1810.1 L2387.9 1807.8 L2389.3 1805.5 L2390.8 1809.6 L2392.4 1813.7 L2393.9 1817.8 L2395.5 1810.9 L2397.0 1803.9 L2399.2 1814.8 L2400.1 1865.8 L2401.4 1865.9 L2402.7 1866.0 L2404.0 1866.0 L2405.4 1866.1 L2406.7 1866.2 L2408.0 1866.2 L2409.3 1866.3 L2410.6 1866.4 L2411.9 1866.5 L2413.2 1866.5 L2414.5 1866.6 L2415.8 1866.7 L2417.1 1866.7 L2418.5 1866.6 L2419.8 1866.5 L2421.1 1866.3 L2422.4 1866.2 L2423.8 1866.1 L2425.1 1866.0 L2426.4 1865.8 L2427.8 1866.0 L2429.2 1866.3 L2430.6 1866.5 L2432.0 1866.7 L2433.4 1866.9 L2434.8 1867.1 L2436.2 1867.3 L2437.6 1867.6 L2439.0 1867.8 L2440.4 1868.0 L2441.9 1861.2 L2443.2 1861.1 L2444.6 1861.1 L2445.9 1861.0 L2447.2 1861.0 L2448.5 1861.0 L2449.9 1860.9 L2451.2 1860.9 L2452.5 1860.8 L2453.8 1860.8 L2455.2 1860.7 L2456.5 1860.7 L2457.8 1860.6 L2459.1 1860.6 L2460.5 1860.6 L2462.0 1938.6 L2462.9 2031.4 L2464.2 2102.6 L2465.5 2109.8 L2466.9 2117.0 L2468.2 2124.3 L2469.8 2129.4 L2471.3 2134.6 L2472.9 2139.7 L2474.2 2140.0 L2475.6 2140.3 L2477.0 2140.6 L2478.4 2140.8 L2479.7 2141.1 L2481.1 2141.4 L2482.5 2141.7 L2483.9 2141.9 L2485.2 2142.2 L2486.6 2142.0 L2488.0 2141.9 L2489.4 2141.7 L2490.7 2141.5 L2492.1 2141.3 L2493.5 2141.2 L2494.9 2141.0 L2496.2 2140.8 L2497.6 2140.7 L2499.2 2140.3 L2500.7 2139.9 L2502.3 2139.5 L2503.8 2139.1 L2505.3 2137.0 L2506.9 2135.0 L2508.4 2132.9 L2509.8 2132.8 L2511.2 2132.8 L2512.5 2132.7 L2513.9 2132.6 L2515.2 2132.5 L2516.6 2132.5 L2517.9 2132.4 L2519.3 2132.3 L2520.7 2132.2 L2522.0 2132.2 L2523.4 2132.1 L2524.8 2132.0 L2526.2 2132.0 L2527.5 2131.9 L2528.9 2131.8 L2530.3 2131.7 L2531.7 2131.7 L2533.0 2132.0 L2534.4 2132.2 L2535.8 2132.5 L2537.2 2132.8 L2538.5 2133.1 L2539.9 2133.3 L2541.3 2133.6 L2542.7 2133.9 L2544.0 2134.2 L2545.4 2134.1 L2546.7 2134.0 L2548.1 2133.9 L2549.5 2133.8 L2550.8 2133.8 L2552.2 2133.7 L2553.5 2133.6 L2554.9 2133.5 L2556.2 2133.5 L2557.6 2133.4 L2558.9 2133.3 L2560.3 2133.2 L2561.6 2133.2 L2563.0 2133.1 L2564.3 2133.0 L2565.7 2132.9 L2567.0 2133.0 L2568.3 2133.1 L2569.6 2133.2 L2570.9 2133.3 L2572.2 2133.4 L2573.6 2133.5 L2574.9 2133.6 L2576.2 2133.7 L2577.5 2133.8 L2578.8 2133.9 L2580.1 2134.0 L2581.4 2134.1 L2582.7 2134.2 L2584.3 2133.8 L2585.8 2133.4 L2587.4 2133.0 L2588.9 2132.7 L2590.5 2132.3 L2591.8 2132.3 L2593.1 2132.4 L2594.4 2132.4 L2595.8 2132.5 L2597.1 2132.5 L2598.4 2132.6 L2599.7 2132.6 L2601.1 2132.7 L2602.4 2132.7 L2603.7 2132.7 L2605.1 2132.8 L2606.4 2132.8 L2607.7 2132.9 L2609.0 2132.9 L2610.4 2133.4 L2611.7 2133.8 L2613.0 2134.2 L2614.3 2134.7 L2615.7 2135.1 L2617.0 2135.6 L2618.3 2136.0 L2619.6 2136.1 L2621.0 2136.1 L2622.3 2136.1 L2623.6 2136.2 L2624.9 2136.2 L2626.3 2136.3 L2627.6 2136.3 L2628.9 2136.4 L2630.3 2136.4 L2631.6 2136.5 L2632.9 2136.5 L2634.2 2136.5 L2635.6 2136.6 L2636.9 2136.6 L2638.3 2136.8 L2639.7 2136.9 L2641.1 2137.1 L2642.5 2137.2 L2643.9 2137.3 L2645.3 2137.5 L2646.7 2137.6 L2648.1 2137.8 L2649.5 2137.9 L2651.0 2138.0 L2652.4 2138.2 L2653.9 2138.7 L2655.5 2139.3 L2657.0 2139.8 L2658.6 2140.3 L2660.0 2140.3 L2661.4 2140.2 L2662.8 2140.2 L2664.2 2140.1 L2665.6 2140.1 L2667.0 2140.0 L2668.4 2140.0 L2669.8 2139.9 L2671.2 2139.8 L2672.6 2139.8 L2674.0 2139.7 L2675.6 2139.3 L2677.1 2139.0 L2678.7 2138.6 L2680.2 2138.2 L2681.8 2135.4 L2683.3 2132.6 L2684.7 2132.6 L2686.1 2132.7 L2687.4 2132.7 L2688.8 2132.7 L2690.2 2132.8 L2691.6 2132.8 L2692.9 2132.8 L2694.3 2132.9 L2695.7 2132.9 L2697.2 2133.7 L2698.8 2134.4 L2700.3 2135.1 L2701.9 2135.9 L2703.4 2136.6 L2705.0 2135.3 L2706.5 2134.0 L2708.1 2132.6 L2709.4 2133.4 L2710.7 2134.2 L2712.1 2135.0 L2713.4 2135.8 L2714.7 2136.6 L2716.0 2137.4 L2717.4 2138.2 L2718.7 2138.2 L2720.1 2138.2 L2721.5 2138.2 L2722.9 2138.2 L2724.2 2138.2 L2725.6 2138.2 L2727.0 2138.2 L2728.4 2138.2 L2729.7 2138.2 L2731.1 2138.0 L2732.6 2137.9 L2734.0 2137.8 L2735.4 2137.6 L2736.8 2137.5 L2738.2 2137.3 L2739.6 2137.2 L2741.0 2137.1 L2742.4 2136.9 L2743.8 2136.8 L2745.2 2136.6 L2746.6 2136.8 L2748.0 2136.9 L2749.4 2137.1 L2750.8 2137.2 L2752.2 2137.3 L2753.7 2137.5 L2755.1 2137.6 L2756.5 2137.8 L2757.9 2137.9 L2759.3 2138.0 L2760.7 2138.2 L2762.1 2138.0 L2763.5 2137.8 L2764.9 2137.6 L2766.3 2137.4 L2767.7 2137.2 L2769.1 2137.0 L2770.5 2136.8 L2771.9 2136.6 L2773.3 2136.4 L2774.8 2136.2 L2776.2 2136.0 L2777.5 2136.0 L2778.9 2135.9 L2780.2 2135.9 L2781.6 2135.9 L2782.9 2135.8 L2784.3 2135.8 L2785.6 2135.7 L2787.0 2135.7 L2788.3 2135.7 L2789.7 2135.6 L2791.1 2135.6 L2792.4 2135.5 L2793.8 2135.5 L2795.1 2135.5 L2796.5 2135.4 L2797.8 2135.4 L2799.2 2135.4 L2800.5 2135.3 L2801.9 2135.3 L2803.2 2135.2 L2804.6 2135.2 L2806.0 2135.2 L2807.3 2135.1 L2808.7 2135.1 L2810.2 2090.2 L2811.6 2090.2 L2812.9 2090.1 L2814.3 2090.1 L2815.6 2090.1 L2817.0 2090.0 L2818.3 2090.0 L2819.7 2089.9 L2821.0 2089.9 L2822.4 2089.9 L2823.7 2089.8 L2825.1 2089.8 L2826.5 2089.7 L2827.8 2089.7 L2829.2 2089.7 L2830.5 2089.6 L2831.9 2089.6 L2833.4 1998.9 L2834.7 1998.9 L2836.1 1998.8 L2837.4 1998.8 L2838.7 1998.7 L2840.1 1998.7 L2841.4 1998.6 L2842.7 1998.6 L2844.0 1998.6 L2845.4 1998.5 L2846.7 1998.5 L2848.0 1998.4 L2849.3 1998.4 L2850.7 1998.3 L2852.0 1998.3 L2853.5 1862.7 L2854.9 1862.7 L2856.2 1862.7 L2857.5 1862.7 L2858.8 1862.7 L2860.2 1862.7 L2861.5 1862.7 L2862.8 1862.7 L2864.1 1862.7 L2865.5 1862.7 L2866.8 1862.7 L2868.1 1862.7 L2869.5 1862.7 L2870.8 1862.7 L2872.1 1862.7 L2873.7 1725.6 L2875.0 1725.6 L2876.3 1725.5 L2877.6 1725.5 L2878.9 1725.5 L2880.2 1725.5 L2881.5 1725.4 L2882.8 1725.4 L2884.1 1725.4 L2885.4 1725.3 L2886.7 1725.3 L2888.0 1725.3 L2889.3 1725.2 L2890.6 1725.2 L2891.9 1725.2 L2893.2 1725.1 L2894.5 1725.1 L2895.8 1725.1 L2897.1 1725.0 L2898.4 1725.0 L2898.8 1700.0 L2899.1 1587.9 L2900.5 1587.9 L2901.8 1587.9 L2903.2 1587.8 L2904.6 1587.8 L2906.0 1587.8 L2907.4 1587.7 L2908.8 1587.7 L2910.2 1587.7 L2911.6 1587.6 L2913.0 1587.6 L2914.3 1587.6 L2915.7 1587.6 L2917.1 1587.5 L2918.5 1587.5 L2919.2 1453.6 L2920.5 1453.6 L2921.8 1453.7 L2923.1 1453.8 L2924.4 1453.8 L2925.7 1453.9 L2927.0 1454.0 L2928.3 1454.0"/>
<path filter="url(#sh)" stroke="#00803c" stroke-width="6.5" d="M199.4 1308.4 L200.6 1307.3 L201.8 1289.4 L203.1 1276.5 L204.3 1284.1 L205.5 1285.0 L206.7 1282.9 L208.2 1276.6 L209.6 1267.0 L211.1 1257.9 L212.5 1265.6 L214.0 1276.4 L215.2 1275.0 L216.4 1280.0 L217.6 1278.1 L218.8 1278.3 L220.0 1295.0 L221.3 1294.7 L222.5 1302.0 L223.7 1306.4 L224.9 1318.1 L226.1 1323.3 L227.3 1330.5 L228.5 1318.2 L229.8 1328.6 L231.0 1316.4 L232.2 1321.2 L233.4 1333.5 L234.6 1321.2 L235.8 1322.8 L237.0 1312.6 L238.3 1309.1 L239.7 1303.1 L241.2 1304.8 L242.6 1295.9 L244.3 1293.1 L246.0 1289.1 L247.6 1286.6 L249.2 1307.8 L250.4 1298.7 L251.6 1289.7 L252.8 1291.4 L254.3 1302.9 L255.7 1308.2 L257.2 1305.2 L258.6 1301.5 L259.9 1295.4 L261.3 1292.1 L262.5 1280.6 L263.7 1278.8 L265.0 1264.2 L266.2 1260.6 L267.4 1262.7 L268.6 1259.3 L270.2 1241.3 L271.7 1229.5 L273.0 1211.4 L274.2 1197.5 L275.6 1213.3 L277.1 1224.5 L278.3 1224.1 L279.5 1217.1 L280.7 1214.5 L282.3 1217.3 L283.9 1240.2 L285.1 1223.3 L286.3 1209.7 L288.0 1207.6 L289.7 1221.7 L291.3 1232.6 L292.9 1237.9 L294.4 1264.4 L296.0 1281.0 L297.5 1274.7 L298.9 1286.7 L300.1 1285.6 L301.4 1265.4 L302.8 1286.8 L304.3 1302.1 L305.8 1309.5 L307.4 1301.2 L308.6 1305.8 L309.9 1315.6 L311.1 1324.4 L312.3 1318.5 L313.5 1325.0 L314.7 1328.4 L315.9 1351.6 L317.1 1358.0 L318.3 1345.7 L319.6 1329.3 L320.8 1317.1 L322.0 1299.3 L323.2 1307.7 L324.4 1320.2 L325.6 1326.3 L326.8 1311.8 L328.1 1308.2 L329.3 1308.4 L330.7 1301.0 L332.2 1294.4 L333.8 1312.1 L335.3 1341.3 L336.6 1332.5 L337.8 1339.8 L339.0 1345.4 L340.2 1339.1 L341.4 1342.5 L342.6 1348.2 L343.8 1353.0 L345.0 1351.8 L346.3 1373.7 L347.5 1382.6 L348.7 1389.2 L349.9 1390.6 L351.1 1415.2 L352.3 1428.8 L353.5 1451.2 L354.8 1444.5 L356.0 1437.3 L357.2 1439.9 L358.6 1418.0 L360.1 1404.7 L361.7 1402.3 L363.3 1412.6 L364.5 1405.2 L365.7 1386.3 L366.9 1366.8 L368.1 1380.3 L369.3 1396.2 L370.5 1410.7 L371.7 1426.4 L373.0 1435.1 L374.2 1448.6 L375.4 1458.1 L376.6 1463.7 L377.8 1477.8 L379.0 1481.2 L380.2 1482.6 L381.5 1488.1 L382.7 1476.6 L383.9 1461.3 L385.1 1468.1 L386.3 1483.9 L387.8 1469.6 L389.2 1462.3 L390.5 1449.5 L391.8 1444.7 L393.1 1437.6 L394.6 1441.3 L396.0 1450.8 L397.2 1459.0 L398.4 1472.2 L400.1 1489.5 L401.8 1499.5 L403.1 1509.2 L404.3 1517.1 L405.5 1535.2 L406.7 1552.9 L407.9 1520.6 L409.1 1520.5 L410.3 1503.7 L411.6 1506.2 L412.8 1505.5 L414.1 1494.4 L415.3 1505.1 L416.6 1493.9 L417.8 1493.7 L419.1 1496.5 L420.3 1483.8 L421.5 1475.5 L422.7 1462.3 L423.9 1451.7 L425.1 1448.2 L426.4 1435.4 L427.6 1445.3 L428.8 1440.1 L430.0 1444.3 L431.2 1440.7 L432.4 1444.4 L433.6 1451.4 L434.9 1451.0 L436.1 1438.4 L437.3 1436.8 L438.5 1420.8 L439.7 1412.7 L440.9 1412.1 L442.1 1413.5 L443.3 1422.2 L444.6 1427.1 L445.8 1400.8 L447.0 1369.4 L448.2 1374.6 L449.4 1392.9 L450.6 1386.4 L451.8 1396.7 L453.1 1404.5 L454.3 1414.3 L455.5 1424.2 L456.7 1432.9 L457.9 1439.5 L459.1 1439.2 L460.3 1461.9 L461.6 1435.3 L462.8 1410.1 L464.3 1407.8 L465.9 1398.5 L467.4 1396.9 L468.8 1408.5 L470.0 1420.2 L471.3 1418.8 L472.5 1420.5 L473.7 1434.0 L474.9 1439.9 L476.1 1443.0 L477.3 1455.5 L478.5 1452.0 L479.8 1455.1 L481.0 1461.4 L482.2 1461.8 L483.4 1459.0 L484.6 1476.5 L485.8 1471.9 L487.0 1483.6 L488.3 1481.8 L489.5 1470.3 L490.7 1476.2 L491.9 1464.1 L493.1 1454.2 L494.3 1451.3 L495.5 1435.5 L497.0 1461.1 L498.4 1471.1 L500.0 1460.9 L501.6 1445.9 L503.2 1432.2 L504.8 1410.5 L506.2 1429.5 L507.7 1448.1 L509.6 1490.5 L511.3 1456.6 L513.0 1424.7 L514.6 1440.3 L516.2 1461.9 L517.4 1461.8 L518.6 1448.7 L520.2 1456.9 L521.7 1477.1 L523.1 1511.3 L524.4 1547.9 L525.6 1572.4 L526.8 1604.9 L528.1 1631.3 L529.3 1652.2 L530.5 1671.0 L531.7 1684.6 L532.9 1716.0 L534.1 1741.0 L535.3 1776.1 L536.6 1760.0 L537.8 1747.8 L539.0 1753.0 L540.2 1758.0 L541.4 1737.6 L542.6 1710.9 L543.8 1706.4 L545.0 1696.3 L546.3 1708.8 L547.5 1725.5 L548.7 1738.2 L549.9 1714.4 L551.1 1687.8 L552.3 1663.2 L553.5 1638.2 L554.8 1641.4 L556.0 1624.7 L557.2 1623.7 L558.4 1610.0 L559.6 1599.4 L560.8 1614.3 L562.0 1645.8 L563.3 1649.2 L564.5 1665.5 L565.7 1638.7 L566.9 1620.1 L568.1 1599.5 L569.3 1618.2 L570.5 1631.2 L571.7 1636.9 L573.0 1618.8 L574.2 1597.6 L575.4 1628.1 L576.6 1656.7 L577.8 1695.2 L579.0 1686.2 L580.2 1667.4 L581.5 1659.2 L582.7 1641.3 L583.9 1630.3 L585.1 1621.1 L586.3 1622.7 L587.5 1611.9 L588.7 1631.9 L590.0 1641.7 L591.2 1626.0 L592.4 1609.6 L593.6 1604.1 L594.8 1590.2 L596.0 1586.3 L597.2 1572.5 L598.4 1560.7 L599.7 1568.8 L600.9 1561.9 L602.1 1540.5 L603.3 1565.0 L604.5 1588.1 L605.7 1563.2 L606.9 1549.7 L608.2 1538.4 L609.4 1508.4 L610.6 1480.1 L611.8 1473.6 L613.0 1459.7 L614.2 1466.6 L615.4 1444.5 L616.7 1436.7 L617.9 1432.9 L619.1 1442.5 L620.3 1448.1 L621.5 1460.5 L622.7 1477.0 L623.9 1487.4 L625.1 1500.3 L626.4 1508.8 L627.6 1517.2 L628.8 1528.8 L630.0 1542.8 L631.2 1546.6 L632.4 1528.5 L633.6 1506.3 L634.9 1476.6 L636.1 1476.0 L637.3 1471.3 L638.5 1464.4 L639.7 1479.8 L640.9 1487.0 L642.1 1508.0 L643.6 1473.3 L645.0 1449.4 L646.6 1470.3 L648.2 1487.0 L649.4 1497.0 L650.6 1504.1 L651.8 1506.6 L653.1 1514.3 L654.3 1517.6 L655.5 1525.5 L656.7 1537.3 L657.9 1542.1 L659.1 1556.1 L660.3 1526.0 L661.6 1515.3 L662.8 1516.6 L664.0 1524.1 L665.2 1522.1 L666.4 1527.7 L667.6 1535.9 L668.8 1545.9 L670.0 1556.6 L671.3 1566.9 L672.5 1556.4 L673.7 1540.4 L674.9 1530.2 L676.1 1527.3 L677.3 1517.9 L678.5 1514.7 L680.1 1504.6 L681.7 1492.7 L683.2 1507.1 L684.6 1531.7 L686.2 1515.9 L687.8 1505.9 L689.2 1508.0 L690.7 1514.3 L691.9 1522.8 L693.1 1527.5 L694.3 1542.2 L695.5 1551.0 L696.7 1558.4 L698.0 1562.0 L699.2 1549.0 L700.4 1537.4 L701.6 1526.7 L702.8 1513.6 L704.0 1505.3 L705.2 1499.6 L706.5 1485.8 L707.7 1472.4 L708.9 1455.9 L710.1 1464.4 L711.3 1457.7 L712.5 1453.7 L713.7 1456.0 L715.0 1451.4 L716.2 1450.1 L717.4 1450.2 L718.6 1465.1 L719.8 1463.6 L721.0 1475.0 L722.2 1475.0 L723.4 1475.4 L724.7 1483.6 L725.9 1486.5 L727.1 1488.3 L728.3 1500.6 L729.5 1496.0 L730.7 1484.9 L731.9 1483.9 L733.2 1471.7 L734.4 1474.2 L735.6 1458.2 L736.8 1465.2 L738.0 1466.8 L739.2 1478.4 L740.4 1493.0 L741.7 1481.2 L742.9 1471.9 L744.1 1470.8 L745.3 1473.9 L746.5 1470.5 L747.7 1484.1 L748.9 1479.2 L750.1 1471.6 L751.4 1465.2 L752.6 1458.5 L753.8 1461.0 L755.0 1445.2 L756.2 1452.0 L757.4 1454.4 L758.6 1449.8 L759.9 1449.9 L761.1 1446.9 L762.3 1454.7 L763.5 1453.0 L764.7 1457.1 L765.9 1453.6 L767.1 1460.3 L768.3 1464.8 L769.6 1462.6 L770.8 1477.0 L772.0 1483.8 L773.2 1489.8 L774.4 1505.4 L775.6 1514.6 L776.8 1519.9 L778.1 1524.0 L779.3 1548.1 L780.5 1563.9 L781.7 1554.2 L782.9 1558.5 L784.1 1553.4 L785.3 1563.1 L786.6 1573.8 L787.8 1578.8 L789.0 1559.7 L790.2 1551.9 L791.4 1550.3 L792.6 1551.1 L793.8 1558.6 L795.0 1567.3 L796.3 1583.9 L797.5 1590.7 L798.7 1611.0 L799.9 1605.4 L801.1 1586.5 L802.3 1592.0 L803.5 1583.2 L804.8 1589.2 L806.0 1613.4 L807.2 1620.7 L808.4 1611.8 L809.6 1607.6 L810.8 1580.8 L812.0 1596.9 L813.3 1607.7 L814.5 1615.2 L815.7 1617.0 L816.9 1624.1 L818.1 1629.6 L819.3 1647.1 L820.5 1660.7 L821.7 1660.3 L823.0 1674.4 L824.2 1679.4 L825.4 1686.8 L826.6 1693.1 L827.8 1698.7 L829.0 1681.1 L830.2 1660.2 L831.5 1638.7 L832.7 1640.7 L833.9 1646.2 L835.1 1648.6 L836.3 1660.7 L837.5 1678.7 L838.7 1685.3 L840.0 1685.5 L841.2 1681.3 L842.4 1686.8 L843.6 1686.4 L844.8 1709.0 L846.0 1716.9 L847.2 1700.2 L848.4 1689.5 L849.7 1683.5 L850.9 1676.3 L852.1 1658.3 L853.3 1656.4 L854.5 1648.5 L855.7 1658.1 L856.9 1683.4 L858.2 1694.9 L859.4 1673.4 L860.6 1660.2 L861.8 1642.7 L863.0 1633.9 L864.2 1625.5 L865.4 1622.8 L866.7 1626.0 L867.9 1630.9 L869.1 1637.2 L870.3 1625.9 L871.5 1605.7 L872.7 1586.9 L873.9 1577.0 L875.1 1568.8 L876.4 1543.0 L877.6 1528.0 L878.8 1508.4 L880.2 1534.0 L881.6 1550.5 L883.2 1531.3 L884.7 1532.9 L886.3 1514.5 L887.8 1519.4 L889.3 1530.3 L890.9 1542.1 L892.4 1539.5 L894.0 1526.5 L895.5 1517.0 L897.1 1533.7 L898.6 1543.0 L900.0 1512.4 L901.3 1492.0 L902.6 1471.0 L904.2 1481.2 L905.7 1491.5 L907.0 1508.2 L908.2 1507.5 L909.4 1512.0 L911.0 1516.3 L912.5 1513.2 L914.1 1505.6 L915.6 1512.5 L917.2 1528.3 L918.7 1541.7 L920.2 1561.0 L921.6 1537.2 L922.9 1528.3 L924.3 1523.1 L925.5 1510.3 L926.7 1520.5 L928.0 1512.2 L929.2 1498.3 L930.4 1506.5 L931.7 1494.7 L933.0 1510.2 L934.3 1516.6 L935.7 1524.9 L937.0 1528.7 L938.4 1526.8 L939.7 1532.1 L940.9 1542.1 L942.2 1560.0 L943.4 1558.3 L945.0 1564.9 L946.5 1568.7 L948.0 1575.3 L949.6 1574.2 L951.1 1580.9 L952.7 1581.1 L953.9 1603.4 L955.1 1593.6 L956.4 1607.7 L957.8 1601.5 L959.2 1599.8 L960.6 1593.0 L961.9 1589.3 L963.5 1607.0 L965.0 1618.5 L966.6 1625.3 L967.9 1604.7 L969.3 1586.0 L970.6 1564.9 L971.8 1580.0 L973.1 1594.4 L974.3 1606.0 L975.8 1604.6 L977.4 1618.6 L978.6 1608.3 L979.9 1608.6 L981.1 1599.5 L982.3 1614.3 L983.6 1625.1 L984.8 1654.2 L986.0 1681.0 L988.2 1725.3 L989.7 1731.6 L991.3 1751.8 L992.8 1770.1 L994.4 1768.0 L995.9 1753.2 L997.5 1747.4 L999.0 1764.7 L1000.6 1780.0 L1002.1 1788.8 L1003.7 1792.7 L1005.2 1793.0 L1006.7 1778.1 L1008.3 1797.4 L1009.8 1834.6 L1012.0 1782.4 L1013.2 1801.2 L1014.5 1817.1 L1016.0 1803.1 L1017.6 1761.1 L1019.1 1758.4 L1020.6 1742.9 L1021.9 1747.1 L1023.1 1756.2 L1024.3 1764.7 L1026.2 1708.7 L1027.7 1737.9 L1029.3 1772.8 L1030.5 1776.1 L1031.8 1777.7 L1033.0 1774.7 L1034.5 1780.7 L1036.1 1802.6 L1037.6 1811.3 L1039.0 1794.9 L1040.3 1781.8 L1041.6 1766.2 L1042.9 1773.8 L1044.1 1781.2 L1045.4 1783.6 L1046.9 1790.1 L1048.4 1806.1 L1050.0 1814.7 L1051.5 1799.6 L1053.1 1778.1 L1054.6 1780.6 L1056.2 1794.4 L1057.7 1808.3 L1059.3 1797.1 L1060.8 1795.5 L1062.3 1783.8 L1063.9 1782.7 L1065.4 1774.9 L1067.0 1778.5 L1068.2 1784.7 L1069.5 1800.0 L1070.7 1819.0 L1072.0 1810.4 L1073.4 1788.6 L1074.7 1789.3 L1076.2 1784.8 L1077.8 1790.9 L1079.3 1797.7 L1080.6 1798.6 L1081.8 1782.7 L1083.0 1782.3 L1084.4 1788.1 L1085.7 1791.6 L1087.1 1800.5 L1088.6 1783.0 L1090.2 1756.6 L1091.7 1729.5 L1093.2 1717.6 L1094.8 1732.7 L1096.3 1751.5 L1097.7 1743.6 L1099.0 1742.1 L1100.3 1730.0 L1101.6 1740.3 L1102.8 1758.3 L1104.1 1772.1 L1105.6 1782.3 L1107.1 1786.3 L1108.7 1781.5 L1110.2 1783.0 L1111.8 1790.5 L1113.1 1794.6 L1114.5 1800.7 L1115.8 1807.6 L1117.0 1799.3 L1118.3 1812.8 L1119.5 1825.5 L1121.0 1826.3 L1122.6 1845.8 L1124.1 1834.0 L1125.7 1832.0 L1126.9 1854.9 L1128.1 1883.5 L1129.4 1872.5 L1130.6 1861.8 L1131.9 1842.0 L1133.4 1845.4 L1134.9 1859.5 L1136.3 1858.6 L1137.6 1849.1 L1139.0 1844.1 L1140.5 1853.7 L1142.1 1856.2 L1143.6 1853.2 L1145.0 1862.9 L1146.5 1866.6 L1147.9 1872.9 L1149.3 1876.2 L1150.7 1883.0 L1152.1 1884.3 L1153.5 1889.6 L1154.7 1880.1 L1156.0 1870.8 L1157.2 1860.9 L1158.5 1858.3 L1159.9 1853.1 L1161.2 1851.9 L1162.7 1843.8 L1164.3 1817.8 L1165.8 1829.5 L1167.4 1849.4 L1168.9 1849.5 L1170.5 1857.7 L1172.0 1857.9 L1173.6 1853.4 L1175.1 1832.4 L1176.7 1828.1 L1178.2 1805.9 L1179.7 1824.1 L1181.3 1841.6 L1182.8 1847.6 L1184.4 1844.2 L1185.9 1848.0 L1187.5 1826.9 L1189.0 1835.9 L1190.6 1830.0 L1192.1 1842.9 L1193.6 1827.2 L1195.2 1809.1 L1196.7 1813.7 L1198.3 1829.5 L1199.8 1832.6 L1201.4 1833.6 L1202.9 1851.3 L1204.5 1853.4 L1205.8 1855.1 L1207.1 1861.9 L1208.5 1861.5 L1209.7 1857.5 L1210.9 1853.4 L1212.2 1839.3 L1213.7 1850.3 L1215.3 1855.6 L1216.8 1853.1 L1218.4 1855.2 L1219.9 1848.4 L1221.4 1829.8 L1223.0 1824.6 L1224.5 1821.3 L1226.1 1827.4 L1227.6 1828.1 L1229.2 1814.5 L1230.7 1800.3 L1232.3 1800.3 L1233.8 1810.1 L1235.3 1823.3 L1236.7 1801.0 L1238.0 1799.2 L1239.4 1788.2 L1240.8 1794.7 L1242.2 1777.2 L1243.7 1783.6 L1245.0 1782.7 L1246.4 1777.4 L1247.7 1780.0 L1249.0 1780.7 L1250.4 1787.0 L1251.7 1780.1 L1253.0 1794.6 L1254.2 1805.0 L1255.4 1811.6 L1256.8 1802.2 L1258.2 1792.9 L1259.6 1791.4 L1261.0 1781.5 L1262.2 1786.7 L1263.5 1786.1 L1264.7 1794.1 L1266.2 1802.9 L1267.8 1803.1 L1269.3 1801.8 L1270.9 1810.2 L1272.4 1828.1 L1274.0 1839.1 L1275.5 1837.1 L1277.1 1840.5 L1278.6 1826.0 L1280.0 1827.5 L1281.4 1838.8 L1282.9 1845.6 L1284.3 1841.4 L1285.7 1848.9 L1287.9 1824.7 L1289.4 1815.1 L1291.0 1807.1 L1292.5 1801.5 L1294.0 1795.0 L1295.4 1786.3 L1296.7 1769.6 L1298.1 1754.1 L1299.3 1756.5 L1300.5 1762.3 L1301.8 1769.7 L1303.3 1751.6 L1304.9 1741.1 L1306.4 1749.7 L1307.9 1753.4 L1309.2 1725.7 L1310.4 1683.7 L1312.0 1691.7 L1313.5 1706.0 L1315.1 1667.2 L1316.6 1645.3 L1317.8 1658.7 L1319.1 1672.2 L1320.3 1686.3 L1321.8 1690.5 L1323.4 1691.2 L1324.9 1678.7 L1326.5 1678.2 L1328.0 1667.6 L1329.6 1656.6 L1331.1 1647.5 L1332.7 1669.9 L1334.2 1679.9 L1335.7 1655.6 L1337.3 1628.1 L1338.6 1632.3 L1340.0 1640.6 L1341.3 1647.3 L1342.8 1635.7 L1344.2 1619.2 L1345.6 1610.9 L1347.0 1609.8 L1348.3 1620.5 L1349.7 1625.9 L1351.2 1641.9 L1352.7 1640.0 L1354.3 1661.4 L1355.8 1667.1 L1357.4 1669.7 L1358.9 1664.8 L1360.5 1659.5 L1362.0 1649.5 L1363.2 1666.5 L1364.5 1651.2 L1365.7 1667.2 L1367.0 1674.1 L1368.2 1690.9 L1369.7 1676.4 L1371.3 1679.7 L1372.8 1670.5 L1374.1 1665.0 L1375.3 1657.7 L1376.5 1652.7 L1377.9 1652.2 L1379.2 1652.1 L1380.5 1659.6 L1382.1 1657.2 L1383.6 1655.8 L1385.2 1629.9 L1386.7 1630.2 L1388.3 1628.7 L1389.8 1627.1 L1391.2 1630.7 L1392.5 1634.3 L1393.8 1630.9 L1395.4 1626.7 L1396.9 1609.9 L1398.2 1603.6 L1399.4 1594.8 L1400.6 1593.2 L1402.2 1609.0 L1403.7 1615.7 L1405.3 1630.5 L1406.8 1626.9 L1408.3 1624.4 L1409.9 1632.0 L1411.4 1622.1 L1413.0 1648.4 L1414.5 1661.4 L1416.1 1668.0 L1417.6 1665.6 L1419.2 1654.5 L1420.7 1648.7 L1422.2 1646.4 L1423.8 1648.9 L1425.3 1655.3 L1426.9 1664.9 L1428.4 1670.9 L1430.0 1668.5 L1431.5 1658.3 L1433.1 1640.1 L1434.4 1647.6 L1435.7 1652.5 L1437.1 1662.3 L1438.3 1656.2 L1439.5 1653.9 L1440.8 1651.8 L1442.0 1650.4 L1443.3 1634.6 L1444.5 1644.5 L1445.7 1652.6 L1447.0 1667.2 L1448.5 1666.4 L1450.1 1654.6 L1451.6 1653.5 L1453.1 1651.9 L1454.7 1652.4 L1456.2 1658.7 L1457.8 1669.0 L1459.3 1668.2 L1460.9 1665.9 L1462.4 1675.1 L1464.0 1684.5 L1465.5 1700.9 L1467.0 1691.6 L1468.6 1712.7 L1470.1 1709.5 L1471.7 1700.2 L1473.2 1688.5 L1474.8 1662.7 L1476.3 1672.1 L1477.9 1670.8 L1479.4 1669.9 L1480.9 1678.5 L1482.5 1677.9 L1484.0 1679.5 L1485.6 1678.1 L1487.1 1670.0 L1488.7 1675.8 L1490.2 1676.6 L1491.8 1682.8 L1493.3 1678.7 L1494.8 1701.9 L1496.4 1700.1 L1497.9 1690.0 L1499.5 1682.9 L1501.0 1692.1 L1502.6 1694.3 L1504.1 1700.8 L1505.7 1716.6 L1507.2 1724.3 L1508.7 1716.0 L1510.3 1714.3 L1511.8 1712.3 L1513.4 1708.4 L1514.9 1691.6 L1516.5 1685.7 L1518.0 1683.1 L1519.3 1683.2 L1520.5 1671.3 L1521.7 1671.0 L1523.1 1675.9 L1524.4 1686.8 L1525.7 1688.9 L1527.3 1695.7 L1528.8 1709.4 L1530.4 1712.2 L1531.9 1719.8 L1533.5 1737.0 L1535.0 1751.5 L1536.6 1764.6 L1538.1 1757.1 L1539.6 1741.5 L1541.2 1721.1 L1542.7 1723.4 L1544.3 1721.5 L1545.8 1716.1 L1547.4 1723.2 L1548.9 1724.9 L1550.5 1735.8 L1551.9 1736.5 L1553.4 1744.3 L1554.9 1751.9 L1556.4 1759.7 L1557.6 1743.7 L1558.8 1744.6 L1560.0 1731.2 L1561.3 1736.0 L1562.5 1766.2 L1563.7 1774.5 L1565.2 1767.0 L1566.7 1745.4 L1568.2 1741.0 L1569.8 1742.5 L1571.3 1763.5 L1572.8 1767.6 L1574.0 1771.1 L1575.2 1771.3 L1576.4 1792.7 L1577.8 1811.6 L1579.2 1827.2 L1580.4 1821.3 L1581.6 1810.5 L1582.8 1806.7 L1584.0 1819.3 L1585.2 1827.3 L1586.4 1847.5 L1587.8 1822.9 L1589.2 1796.1 L1590.5 1784.4 L1591.9 1774.1 L1593.3 1780.3 L1594.6 1773.0 L1595.9 1776.4 L1597.1 1780.8 L1598.3 1796.2 L1599.8 1772.7 L1601.3 1754.2 L1602.8 1732.8 L1604.2 1752.5 L1605.6 1766.0 L1606.9 1789.3 L1608.3 1802.1 L1609.5 1792.4 L1610.7 1788.8 L1611.9 1784.9 L1613.3 1797.2 L1614.7 1809.3 L1615.9 1808.4 L1617.1 1790.7 L1618.3 1791.6 L1619.8 1797.7 L1621.3 1806.9 L1622.9 1809.2 L1624.1 1799.7 L1625.3 1800.7 L1626.5 1796.3 L1627.7 1774.0 L1628.9 1767.9 L1630.1 1761.0 L1631.4 1743.4 L1632.6 1743.8 L1633.8 1725.3 L1635.0 1744.4 L1636.2 1747.2 L1637.4 1760.3 L1639.2 1739.4 L1640.6 1753.3 L1642.0 1769.0 L1643.3 1744.7 L1644.7 1720.9 L1646.4 1703.4 L1648.0 1694.6 L1649.5 1716.9 L1651.1 1736.5 L1652.3 1721.1 L1653.5 1711.1 L1654.7 1699.7 L1656.1 1709.8 L1657.5 1718.7 L1658.8 1739.2 L1660.2 1743.2 L1661.4 1740.6 L1662.6 1721.9 L1663.8 1708.7 L1665.0 1720.4 L1666.3 1722.7 L1667.5 1723.9 L1668.7 1736.4 L1669.9 1733.8 L1671.1 1750.4 L1672.3 1746.2 L1673.5 1744.5 L1674.8 1738.6 L1676.0 1754.0 L1677.2 1754.2 L1678.4 1758.3 L1679.9 1781.6 L1681.4 1777.4 L1682.9 1788.3 L1684.3 1767.5 L1685.7 1749.8 L1687.2 1755.0 L1688.7 1756.9 L1690.2 1763.6 L1691.4 1752.2 L1692.7 1740.2 L1693.9 1728.3 L1695.1 1740.9 L1696.3 1742.5 L1697.5 1764.6 L1698.7 1760.0 L1699.9 1777.3 L1701.2 1786.8 L1702.4 1776.5 L1703.6 1771.5 L1704.8 1772.0 L1706.2 1776.5 L1707.5 1785.2 L1708.7 1782.1 L1710.0 1770.8 L1711.2 1758.9 L1712.5 1756.0 L1713.9 1755.1 L1715.3 1740.8 L1716.6 1733.2 L1719.0 1723.9 L1720.5 1721.8 L1722.1 1732.7 L1723.6 1738.6 L1725.1 1739.9 L1726.6 1751.2 L1727.9 1737.0 L1729.1 1727.7 L1730.3 1730.9 L1731.5 1731.4 L1732.7 1743.3 L1733.9 1766.6 L1735.6 1747.2 L1737.2 1730.7 L1738.8 1742.5 L1740.3 1746.1 L1742.7 1726.3 L1744.2 1733.9 L1745.8 1748.5 L1747.1 1750.5 L1748.5 1751.8 L1749.9 1761.0 L1751.2 1777.9 L1752.4 1771.1 L1753.7 1771.7 L1754.9 1776.4 L1756.1 1778.9 L1757.3 1793.7 L1758.5 1808.9 L1759.9 1822.4 L1761.2 1828.3 L1763.4 1859.1 L1765.8 1821.2 L1767.3 1826.0 L1768.8 1835.0 L1770.3 1838.6 L1771.6 1825.2 L1772.8 1815.8 L1774.0 1804.1 L1775.2 1802.0 L1776.4 1800.4 L1777.6 1785.6 L1780.0 1790.0 L1781.9 1796.6 L1783.4 1815.1 L1785.0 1817.9 L1786.5 1821.6 L1788.1 1825.5 L1789.6 1843.0 L1791.2 1827.3 L1792.7 1817.2 L1794.3 1813.7 L1795.8 1815.5 L1797.4 1802.7 L1798.9 1793.7 L1800.5 1803.2 L1802.0 1820.2 L1803.6 1822.9 L1805.1 1828.4 L1806.7 1838.2 L1808.2 1826.4 L1809.8 1810.9 L1811.3 1814.3 L1812.9 1815.0 L1814.4 1805.5 L1815.9 1821.2 L1817.5 1826.1 L1819.0 1835.3 L1820.6 1843.5 L1822.1 1852.7 L1823.4 1849.0 L1824.6 1834.9 L1825.8 1829.7 L1827.1 1849.2 L1828.3 1869.7 L1829.7 1873.4 L1831.0 1890.6 L1832.3 1904.3 L1833.6 1884.1 L1834.8 1863.9 L1836.1 1860.5 L1837.6 1865.5 L1839.2 1863.1 L1840.7 1879.2 L1842.3 1889.5 L1843.8 1876.1 L1845.3 1867.4 L1846.9 1871.2 L1848.4 1870.7 L1850.0 1871.7 L1851.2 1875.5 L1852.5 1863.2 L1853.7 1861.1 L1854.9 1865.6 L1856.2 1860.9 L1857.7 1859.0 L1859.3 1869.7 L1860.8 1873.9 L1862.2 1849.4 L1863.5 1846.4 L1864.8 1840.2 L1866.1 1841.5 L1867.3 1840.0 L1868.6 1851.9 L1870.1 1854.8 L1871.7 1869.1 L1873.2 1850.9 L1874.8 1838.0 L1876.3 1826.5 L1877.8 1834.0 L1879.4 1821.6 L1880.9 1822.8 L1882.5 1823.0 L1884.0 1826.2 L1885.6 1819.8 L1887.1 1810.1 L1888.7 1811.1 L1890.2 1808.0 L1891.8 1761.3 L1893.3 1743.8 L1894.9 1727.3 L1896.4 1732.0 L1898.0 1735.4 L1899.5 1727.2 L1901.1 1721.6 L1902.6 1709.5 L1904.2 1697.3 L1905.7 1701.7 L1907.2 1704.3 L1909.4 1675.0 L1910.8 1673.6 L1912.1 1671.1 L1913.4 1682.6 L1915.0 1695.9 L1916.5 1710.1 L1918.1 1718.3 L1919.6 1713.5 L1921.0 1719.8 L1922.3 1730.4 L1923.7 1731.9 L1924.9 1710.5 L1926.1 1693.0 L1927.4 1690.2 L1928.9 1697.7 L1930.5 1704.1 L1932.0 1709.0 L1933.6 1726.2 L1935.1 1707.2 L1936.7 1693.5 L1938.2 1704.5 L1939.7 1718.6 L1941.3 1729.0 L1942.6 1714.2 L1944.0 1711.3 L1945.3 1705.9 L1946.8 1684.2 L1948.2 1684.4 L1949.7 1670.2 L1951.2 1674.7 L1952.7 1700.1 L1954.1 1698.6 L1955.4 1705.4 L1956.8 1707.8 L1958.3 1701.2 L1959.9 1712.1 L1961.4 1723.5 L1963.0 1730.7 L1964.5 1728.1 L1965.7 1746.2 L1967.0 1755.4 L1968.5 1746.0 L1970.1 1735.5 L1971.3 1732.8 L1972.6 1729.4 L1973.8 1725.3 L1975.3 1715.8 L1976.9 1703.9 L1978.4 1719.6 L1980.0 1735.3 L1981.5 1738.3 L1983.1 1734.5 L1984.6 1730.2 L1986.0 1742.0 L1987.3 1744.6 L1988.6 1759.4 L1989.9 1749.3 L1991.1 1747.7 L1992.4 1747.8 L1993.9 1751.6 L1995.5 1757.4 L1997.0 1764.1 L1998.6 1748.7 L2000.1 1740.1 L2001.4 1724.7 L2002.8 1723.8 L2004.1 1728.6 L2005.4 1721.6 L2006.6 1720.0 L2007.8 1726.7 L2009.4 1730.2 L2010.9 1734.1 L2012.5 1746.8 L2014.0 1746.6 L2015.6 1733.7 L2017.1 1729.1 L2018.7 1741.4 L2020.2 1746.5 L2021.8 1745.6 L2023.3 1750.6 L2024.9 1747.2 L2026.4 1755.8 L2028.0 1755.5 L2029.5 1762.1 L2030.7 1769.5 L2032.0 1767.7 L2033.2 1778.5 L2034.6 1770.5 L2035.9 1765.6 L2037.2 1750.3 L2038.8 1737.5 L2040.3 1737.1 L2041.9 1736.2 L2043.4 1729.5 L2045.0 1725.8 L2046.5 1725.5 L2048.1 1728.1 L2049.6 1732.0 L2051.2 1734.1 L2052.7 1718.2 L2054.3 1711.2 L2055.8 1700.6 L2057.4 1705.7 L2058.9 1718.5 L2060.5 1724.6 L2062.0 1718.4 L2063.5 1713.1 L2065.1 1705.9 L2066.6 1725.7 L2068.2 1720.5 L2069.7 1724.9 L2071.3 1707.8 L2072.8 1708.2 L2074.4 1713.4 L2075.9 1718.2 L2077.5 1716.5 L2079.3 1711.0 L2080.8 1716.7 L2082.4 1697.4 L2083.9 1705.2 L2085.5 1709.2 L2087.0 1707.2 L2088.6 1712.2 L2090.1 1699.0 L2091.7 1690.6 L2093.0 1692.1 L2094.2 1688.1 L2095.5 1682.9 L2097.1 1663.8 L2098.6 1668.3 L2100.2 1660.9 L2102.5 1628.0 L2104.0 1636.5 L2105.6 1641.3 L2107.9 1627.1 L2109.9 1634.9 L2112.1 1623.3 L2113.5 1629.6 L2114.9 1633.2 L2117.2 1624.4 L2119.5 1640.8 L2121.1 1630.4 L2122.6 1621.4 L2124.2 1623.4 L2125.7 1639.6 L2128.0 1650.6 L2130.3 1649.5 L2131.9 1652.0 L2133.4 1639.6 L2134.8 1633.7 L2136.2 1632.4 L2138.1 1618.6 L2139.6 1612.3 L2141.2 1602.6 L2143.5 1609.9 L2145.8 1605.0 L2147.4 1606.4 L2148.9 1609.9 L2150.3 1591.6 L2151.7 1578.3 L2153.0 1588.8 L2154.3 1595.5 L2155.9 1631.8 L2157.4 1637.7 L2159.7 1605.8 L2161.3 1611.5 L2162.8 1611.0 L2165.2 1619.2 L2166.7 1616.0 L2168.3 1624.8 L2169.8 1637.4 L2171.3 1629.8 L2172.6 1636.0 L2173.9 1632.9 L2175.2 1630.0 L2176.8 1631.6 L2178.3 1629.9 L2179.6 1637.0 L2180.9 1636.4 L2182.2 1641.5 L2184.5 1609.1 L2186.0 1606.8 L2187.6 1607.3 L2189.9 1605.7 L2191.5 1612.3 L2193.0 1624.2 L2194.3 1633.5 L2195.6 1630.7 L2196.9 1645.3 L2198.4 1632.3 L2200.0 1635.9 L2201.3 1634.0 L2202.5 1626.1 L2203.8 1626.9 L2205.4 1623.4 L2206.9 1602.9 L2209.3 1599.1 L2211.6 1587.5 L2213.9 1595.2 L2216.2 1601.2 L2218.5 1564.0 L2220.9 1562.1 L2222.4 1571.3 L2224.0 1572.3 L2226.3 1563.0 L2228.6 1599.0 L2230.9 1571.0 L2232.5 1556.1 L2234.0 1561.1 L2236.3 1566.1 L2238.7 1592.6 L2240.2 1599.2 L2241.7 1599.3 L2244.1 1600.6 L2246.4 1610.0 L2248.7 1627.3 L2251.0 1610.7 L2253.4 1628.6 L2255.7 1645.2 L2258.0 1635.8 L2259.3 1669.4 L2260.6 1683.5 L2262.0 1669.0 L2263.4 1660.5 L2265.7 1649.2 L2267.0 1650.8 L2268.4 1644.8 L2269.8 1645.0 L2271.1 1658.1 L2272.5 1662.1 L2273.9 1669.4 L2275.2 1666.0 L2276.6 1655.4 L2278.1 1660.4 L2279.7 1674.5 L2281.2 1673.2 L2282.7 1662.7 L2285.1 1666.1 L2287.4 1646.3 L2289.7 1661.6 L2291.3 1671.4 L2292.8 1664.6 L2294.4 1681.2 L2295.9 1678.6 L2298.2 1695.3 L2299.8 1727.7 L2302.1 1703.2 L2303.6 1707.1 L2305.2 1698.5 L2306.5 1697.4 L2307.8 1677.4 L2309.1 1674.4 L2310.6 1677.4 L2312.1 1693.1 L2313.7 1693.4 L2315.2 1688.9 L2317.6 1691.5 L2319.9 1701.3 L2322.2 1717.8 L2323.8 1728.6 L2325.3 1706.3 L2326.8 1726.8 L2328.4 1729.3 L2330.7 1756.5 L2331.3 1775.6 L2332.8 1775.0 L2334.4 1768.0 L2335.9 1762.2 L2337.5 1756.2 L2339.0 1771.9 L2340.6 1783.0 L2342.1 1784.5 L2343.6 1786.5 L2345.2 1796.6 L2346.7 1783.3 L2348.3 1770.4 L2349.8 1760.8 L2351.4 1763.8 L2352.9 1769.0 L2354.5 1774.9 L2356.0 1788.8 L2357.6 1799.8 L2359.1 1801.9 L2360.7 1812.9 L2362.2 1831.1 L2363.8 1849.3 L2365.3 1858.6 L2366.9 1872.5 L2368.4 1884.0 L2370.0 1874.5 L2371.5 1855.2 L2373.0 1871.5 L2374.6 1882.7 L2376.1 1866.9 L2377.7 1841.3 L2379.2 1826.1 L2380.8 1806.5 L2382.3 1817.2 L2383.9 1836.8 L2385.4 1846.8 L2387.0 1851.4 L2388.5 1860.2 L2390.1 1874.5 L2391.6 1853.4 L2393.2 1826.5 L2394.7 1825.9 L2396.3 1823.8 L2397.8 1816.8 L2399.4 1818.4 L2400.9 1810.0 L2402.5 1802.9 L2403.8 1809.9 L2405.1 1807.0 L2406.5 1792.2 L2407.7 1805.1 L2409.0 1812.6 L2410.2 1817.9 L2411.7 1834.3 L2413.3 1831.2 L2414.8 1840.2 L2416.0 1830.5 L2417.3 1823.3 L2418.5 1827.5 L2419.7 1818.5 L2420.9 1819.8 L2422.1 1806.2 L2423.3 1814.6 L2424.9 1813.2 L2426.4 1799.6 L2428.0 1789.5 L2429.5 1792.9 L2431.1 1803.6 L2432.6 1799.3 L2434.2 1810.1 L2435.7 1817.6 L2437.3 1818.2 L2438.8 1821.7 L2440.4 1817.2 L2441.9 1813.7 L2443.4 1845.3 L2445.0 1870.2 L2446.5 1863.9 L2448.1 1849.5 L2449.6 1860.6 L2451.2 1852.1 L2452.7 1861.0 L2454.3 1881.4 L2455.8 1903.6 L2457.4 1921.5 L2458.9 1940.5 L2461.1 1991.4 L2462.9 2047.1 L2465.1 1972.2 L2466.4 1954.4 L2467.6 1939.3 L2469.8 1995.1 L2471.3 2018.8 L2472.9 2033.7 L2474.4 2020.4 L2475.9 2023.9 L2477.5 2019.8 L2479.0 2021.1 L2480.6 2035.3 L2482.1 2040.1 L2483.7 2031.4 L2485.2 2023.3 L2486.8 2031.0 L2488.3 2034.6 L2489.9 2028.5 L2491.4 2036.2 L2493.0 2031.0 L2494.5 2020.1 L2496.1 2022.7 L2497.6 2025.9 L2499.2 2022.4 L2500.7 2026.3 L2502.0 2015.0 L2503.4 1996.0 L2504.7 1979.2 L2506.0 1996.8 L2507.2 2017.0 L2508.4 2021.1 L2510.0 2017.6 L2511.5 2018.4 L2513.1 2028.4 L2514.6 2021.7 L2516.2 2023.9 L2517.7 2028.3 L2519.3 2031.1 L2520.8 2030.5 L2522.4 2033.4 L2523.9 2036.8 L2525.5 2044.2 L2527.0 2043.0 L2528.3 2035.2 L2529.5 2044.3 L2530.7 2044.3 L2532.0 2046.1 L2533.2 2052.2 L2534.8 2039.8 L2536.3 2032.4 L2537.8 2019.4 L2539.4 2031.1 L2540.9 2027.5 L2542.5 2025.2 L2544.0 2029.5 L2545.6 2019.8 L2547.1 2020.2 L2548.7 2013.4 L2550.2 2014.4 L2551.8 2017.0 L2553.3 2020.9 L2554.9 2018.4 L2556.4 2034.9 L2557.7 2030.3 L2558.9 2015.5 L2560.1 2021.6 L2561.4 2013.8 L2562.6 1999.3 L2564.2 2003.5 L2565.7 2009.9 L2567.2 2004.5 L2568.8 2007.1 L2570.3 1994.6 L2571.9 1998.8 L2573.4 2005.8 L2575.0 1999.9 L2576.5 2005.7 L2578.1 1987.0 L2579.6 1974.3 L2581.2 1976.4 L2582.7 1989.0 L2584.3 2003.9 L2585.5 1998.5 L2586.7 1983.5 L2588.0 1981.8 L2589.2 1982.2 L2590.5 1979.2 L2592.0 1978.6 L2593.6 1975.8 L2595.1 1981.6 L2596.7 1984.7 L2598.2 1984.1 L2599.7 1974.6 L2601.3 1979.3 L2602.8 1984.7 L2604.4 1974.7 L2605.7 1960.9 L2607.1 1953.2 L2608.4 1946.4 L2609.7 1943.2 L2610.9 1946.8 L2612.1 1941.6 L2613.4 1952.5 L2614.6 1946.6 L2615.8 1959.8 L2617.2 1949.8 L2618.5 1950.0 L2619.9 1938.8 L2621.4 1927.1 L2623.0 1937.4 L2624.5 1939.3 L2626.1 1916.3 L2627.6 1902.5 L2628.8 1888.1 L2630.1 1878.6 L2631.3 1869.1 L2632.7 1870.5 L2634.0 1866.9 L2635.3 1863.2 L2636.9 1849.2 L2638.4 1857.4 L2640.0 1841.8 L2641.5 1849.3 L2643.1 1849.4 L2644.3 1843.5 L2645.6 1839.6 L2646.8 1834.5 L2648.2 1847.4 L2649.6 1843.1 L2651.0 1856.5 L2652.4 1863.1 L2653.6 1861.2 L2654.8 1862.8 L2656.1 1859.6 L2657.3 1856.8 L2658.6 1856.2 L2660.1 1845.5 L2661.6 1859.4 L2663.2 1856.8 L2664.5 1855.0 L2665.9 1847.3 L2667.2 1837.4 L2668.5 1853.5 L2669.7 1854.7 L2670.9 1865.3 L2672.5 1857.9 L2674.0 1855.1 L2675.6 1859.4 L2676.9 1858.2 L2678.3 1881.3 L2679.6 1888.8 L2680.9 1881.8 L2682.2 1880.4 L2683.5 1884.7 L2684.9 1870.2 L2686.4 1868.4 L2688.0 1878.3 L2689.5 1886.0 L2691.0 1890.1 L2692.6 1888.7 L2694.1 1897.5 L2695.7 1918.3 L2697.2 1935.0 L2698.8 1926.8 L2700.3 1913.7 L2701.9 1915.6 L2703.4 1924.2 L2705.0 1934.7 L2706.5 1919.7 L2708.1 1912.9 L2709.6 1908.1 L2711.2 1916.8 L2712.7 1926.4 L2714.3 1912.2 L2715.8 1906.0 L2717.4 1908.5 L2718.9 1915.1 L2720.5 1893.6 L2722.0 1905.3 L2723.5 1910.5 L2725.1 1910.9 L2726.6 1900.0 L2728.2 1878.9 L2729.7 1876.7 L2731.3 1872.7 L2732.8 1863.2 L2734.4 1867.7 L2735.9 1863.0 L2737.5 1868.5 L2738.8 1871.8 L2740.2 1847.0 L2741.5 1836.3 L2742.7 1852.0 L2744.0 1856.9 L2745.2 1870.8 L2746.8 1880.8 L2748.3 1888.3 L2749.9 1871.0 L2751.4 1863.6 L2752.9 1856.0 L2754.3 1860.5 L2755.6 1848.1 L2757.0 1847.9 L2758.4 1859.9 L2759.9 1886.7 L2761.3 1912.0 L2762.6 1894.1 L2764.0 1883.8 L2765.3 1871.9 L2766.7 1879.5 L2768.0 1881.8 L2769.4 1883.4 L2770.7 1890.1 L2772.0 1879.4 L2773.3 1876.4 L2774.6 1871.6 L2776.2 1857.0 L2777.7 1842.4 L2779.3 1827.2 L2780.8 1825.0 L2782.4 1813.1 L2783.9 1807.2 L2785.2 1815.2 L2786.6 1819.8 L2787.9 1816.9 L2789.2 1812.8 L2790.4 1803.8 L2791.6 1799.9 L2793.2 1798.6 L2794.7 1780.7 L2796.3 1779.2 L2797.6 1791.4 L2799.0 1793.4 L2800.3 1804.3 L2801.5 1809.2 L2802.8 1816.8 L2804.0 1839.8 L2805.6 1812.1 L2807.1 1794.4 L2808.7 1762.0 L2810.2 1743.4 L2811.8 1735.0 L2813.3 1723.9 L2814.8 1712.4 L2816.4 1697.7 L2817.9 1729.1 L2819.1 1666.1 L2821.3 1638.6 L2823.5 1653.2 L2824.8 1641.9 L2826.1 1619.9 L2827.5 1633.1 L2828.9 1644.7 L2831.1 1614.1 L2832.6 1597.3 L2834.0 1583.1 L2835.3 1595.7 L2836.6 1600.8 L2837.9 1618.0 L2839.2 1627.5 L2840.6 1638.3 L2842.1 1638.9 L2844.2 1651.5 L2846.4 1619.7 L2848.6 1599.9 L2850.8 1556.8 L2852.3 1508.0 L2854.1 1586.3 L2856.3 1533.1 L2858.4 1597.9 L2860.1 1624.1 L2861.7 1633.4 L2863.9 1584.3 L2866.1 1615.0 L2868.3 1596.8 L2870.4 1642.2 L2872.6 1655.1 L2874.8 1679.1 L2877.0 1639.9 L2879.2 1639.9 L2881.4 1636.1 L2883.6 1607.1 L2885.7 1587.6 L2887.9 1549.1 L2889.6 1549.9 L2891.2 1548.1 L2892.9 1570.5 L2894.3 1544.6 L2895.6 1525.7 L2897.2 1515.1 L2898.8 1486.8 L2901.0 1423.7 L2902.7 1467.0 L2904.3 1493.8 L2905.9 1471.0 L2907.6 1442.4 L2909.2 1430.7 L2910.9 1417.2 L2912.6 1384.8 L2914.1 1376.5 L2916.3 1423.3 L2917.7 1412.2 L2919.2 1387.5 L2921.3 1387.2 L2923.5 1425.4 L2925.7 1478.6 L2927.9 1453.6"/>
</g>
<g id="text">
<text x="595.7" y="131.6" font-size="89.7" font-weight="bold" fill="#000" textLength="1938.4" lengthAdjust="spacingAndGlyphs">The S&amp;P 500 and Federal Reserve Intervention</text>
<text x="2597.3" y="46.2" font-size="40.5" font-weight="bold" fill="#1f497d" textLength="494.6" lengthAdjust="spacingAndGlyphs">advisorperspectives.com</text>
<text x="2828.2" y="104.7" font-size="40.5" font-weight="bold" fill="#1f497d" textLength="263.7" lengthAdjust="spacingAndGlyphs">Data through</text>
<text x="2704.4" y="163.6" font-size="40.5" font-weight="bold" fill="#1f497d" textLength="388.5" lengthAdjust="spacingAndGlyphs">November 18, 2022</text>
<line x1="807" y1="220" x2="895" y2="220" stroke="#0000ff" stroke-width="8.5" stroke-linecap="round"/>
<text x="904.1" y="237.8" font-size="55.6" font-weight="bold" fill="#0000ff" textLength="222.0" lengthAdjust="spacingAndGlyphs">S&amp;P 500</text>
<line x1="1210" y1="220" x2="1296" y2="220" stroke="#c00000" stroke-width="8.5" stroke-linecap="round"/>
<text x="1307.8" y="237.8" font-size="55.6" font-weight="bold" fill="#c00000" textLength="506.2" lengthAdjust="spacingAndGlyphs">Federal Funds Rate</text>
<line x1="1899" y1="220" x2="1986" y2="220" stroke="#00803c" stroke-width="6.5" stroke-linecap="round"/>
<text x="1996.1" y="237.8" font-size="55.6" font-weight="bold" fill="#00803c" textLength="350.3" lengthAdjust="spacingAndGlyphs">10-Year Yield</text>
<text x="40.1" y="285.8" font-size="43.3" font-weight="bold" fill="#0000ff" textLength="184.9" lengthAdjust="spacingAndGlyphs">Log scale</text>
<text x="41.1" y="494.8" font-size="41.9" font-weight="bold" fill="#0000ff" textLength="105.2" lengthAdjust="spacingAndGlyphs">6,400</text>
<text x="41.1" y="911.8" font-size="41.9" font-weight="bold" fill="#0000ff" textLength="105.2" lengthAdjust="spacingAndGlyphs">3,200</text>
<text x="41.1" y="1328.8" font-size="41.9" font-weight="bold" fill="#0000ff" textLength="105.2" lengthAdjust="spacingAndGlyphs">1,600</text>
<text x="74.5" y="1745.8" font-size="41.9" font-weight="bold" fill="#0000ff" textLength="71.8" lengthAdjust="spacingAndGlyphs">800</text>
<text x="74.5" y="2162.8" font-size="41.9" font-weight="bold" fill="#0000ff" textLength="71.8" lengthAdjust="spacingAndGlyphs">400</text>
<text x="2994.5" y="2163.1" font-size="41.9" font-weight="bold" fill="#00803c" textLength="82.3" lengthAdjust="spacingAndGlyphs">0.00</text>
<text x="2994.5" y="1981.5" font-size="41.9" font-weight="bold" fill="#00803c" textLength="82.3" lengthAdjust="spacingAndGlyphs">1.00</text>
<text x="2994.5" y="1800.0" font-size="41.9" font-weight="bold" fill="#00803c" textLength="82.3" lengthAdjust="spacingAndGlyphs">2.00</text>
<text x="2994.5" y="1618.4" font-size="41.9" font-weight="bold" fill="#00803c" textLength="82.3" lengthAdjust="spacingAndGlyphs">3.00</text>
<text x="2994.5" y="1436.8" font-size="41.9" font-weight="bold" fill="#00803c" textLength="82.3" lengthAdjust="spacingAndGlyphs">4.00</text>
<text x="2994.5" y="1255.2" font-size="41.9" font-weight="bold" fill="#00803c" textLength="82.3" lengthAdjust="spacingAndGlyphs">5.00</text>
<text x="148.4" y="2229.7" font-size="44.7" font-weight="bold" fill="#000" textLength="101.9" lengthAdjust="spacingAndGlyphs">2007</text>
<text x="320.3" y="2229.7" font-size="44.7" font-weight="bold" fill="#000" textLength="101.9" lengthAdjust="spacingAndGlyphs">2008</text>
<text x="492.1" y="2229.7" font-size="44.7" font-weight="bold" fill="#000" textLength="101.9" lengthAdjust="spacingAndGlyphs">2009</text>
<text x="663.9" y="2229.7" font-size="44.7" font-weight="bold" fill="#000" textLength="101.9" lengthAdjust="spacingAndGlyphs">2010</text>
<text x="835.7" y="2229.7" font-size="44.7" font-weight="bold" fill="#000" textLength="101.9" lengthAdjust="spacingAndGlyphs">2011</text>
<text x="1007.5" y="2229.7" font-size="44.7" font-weight="bold" fill="#000" textLength="101.9" lengthAdjust="spacingAndGlyphs">2012</text>
<text x="1179.4" y="2229.7" font-size="44.7" font-weight="bold" fill="#000" textLength="101.9" lengthAdjust="spacingAndGlyphs">2013</text>
<text x="1351.2" y="2229.7" font-size="44.7" font-weight="bold" fill="#000" textLength="101.9" lengthAdjust="spacingAndGlyphs">2014</text>
<text x="1523.0" y="2229.7" font-size="44.7" font-weight="bold" fill="#000" textLength="101.9" lengthAdjust="spacingAndGlyphs">2015</text>
<text x="1694.8" y="2229.7" font-size="44.7" font-weight="bold" fill="#000" textLength="101.9" lengthAdjust="spacingAndGlyphs">2016</text>
<text x="1866.6" y="2229.7" font-size="44.7" font-weight="bold" fill="#000" textLength="101.9" lengthAdjust="spacingAndGlyphs">2017</text>
<text x="2038.5" y="2229.7" font-size="44.7" font-weight="bold" fill="#000" textLength="101.9" lengthAdjust="spacingAndGlyphs">2018</text>
<text x="2210.3" y="2229.7" font-size="44.7" font-weight="bold" fill="#000" textLength="101.9" lengthAdjust="spacingAndGlyphs">2019</text>
<text x="2382.1" y="2229.7" font-size="44.7" font-weight="bold" fill="#000" textLength="101.9" lengthAdjust="spacingAndGlyphs">2020</text>
<text x="2553.9" y="2229.7" font-size="44.7" font-weight="bold" fill="#000" textLength="101.9" lengthAdjust="spacingAndGlyphs">2021</text>
<text x="2725.7" y="2229.7" font-size="44.7" font-weight="bold" fill="#000" textLength="101.9" lengthAdjust="spacingAndGlyphs">2022</text>
<text x="2897.6" y="2229.7" font-size="44.7" font-weight="bold" fill="#000" textLength="101.9" lengthAdjust="spacingAndGlyphs">2023</text>
<g filter="url(#sht)">
<text x="439.6" y="391.0" font-size="46.1" font-weight="bold" fill="#000" textLength="129.8" lengthAdjust="spacingAndGlyphs">PDCF,</text>
<text x="442.2" y="458.9" font-size="46.1" font-weight="bold" fill="#000" textLength="122.9" lengthAdjust="spacingAndGlyphs">TALF,</text>
<text x="436.7" y="526.0" font-size="46.1" font-weight="bold" fill="#000" textLength="134.0" lengthAdjust="spacingAndGlyphs">TARP,</text>
<text x="462.2" y="593.1" font-size="46.1" font-weight="bold" fill="#000" textLength="83.4" lengthAdjust="spacingAndGlyphs">etc.</text>
</g>
<text x="602.4" y="436.0" font-size="46.1" font-weight="bold" fill="#000" textLength="91.0" lengthAdjust="spacingAndGlyphs">QE1</text>
<text x="970.4" y="436.6" font-size="46.1" font-weight="bold" fill="#000" textLength="92.2" lengthAdjust="spacingAndGlyphs">QE2</text>
<text x="1410.9" y="436.6" font-size="46.1" font-weight="bold" fill="#000" textLength="92.2" lengthAdjust="spacingAndGlyphs">QE3</text>
<text x="928.5" y="557.9" font-size="47.5" font-weight="bold" fill="#000" textLength="185.0" lengthAdjust="spacingAndGlyphs">Operation</text>
<text x="969.5" y="612.8" font-size="48.0" font-weight="bold" fill="#000" textLength="102.8" lengthAdjust="spacingAndGlyphs">Twist</text>
<text x="928.0" y="657.8" font-size="31.3" font-weight="normal" fill="#000" textLength="186.1" lengthAdjust="spacingAndGlyphs" xml:space="preserve">Extended  to</text>
<text x="2502.3" y="405.8" font-size="47.8" font-weight="bold" fill="#000" textLength="146.0" lengthAdjust="spacingAndGlyphs">CARES</text>
<text x="2513.6" y="473.9" font-size="47.8" font-weight="bold" fill="#000" textLength="137.8" lengthAdjust="spacingAndGlyphs">&amp; PPP</text>
<text x="34.1" y="84.5" font-size="53.9" font-weight="bold" fill="#000" textLength="43.3" lengthAdjust="spacingAndGlyphs" stroke="#000" stroke-width="0.6">V</text>
<text x="69.4" y="84.5" font-size="53.9" font-weight="bold" fill="#000" textLength="134.5" lengthAdjust="spacingAndGlyphs" stroke="#000" stroke-width="1.1">ettaFi</text>
<path d="M45.6 46.3 L54.9 70" stroke="#000" stroke-width="2.5" fill="none"/>
<path d="M39.0 45 L53.6 82 M43.0 45 L54.9 75.5" stroke="#fff" stroke-width="1.5" fill="none"/>
<line x1="243.8" y1="36.7" x2="243.8" y2="92" stroke="#555" stroke-width="1.5"/>
<text x="286.7" y="62.9" font-size="34.9" font-weight="bold" fill="#000" textLength="165.5" lengthAdjust="spacingAndGlyphs" stroke="#000" stroke-width="0.9">ADVISOR</text>
<text x="286.7" y="91.9" font-size="35.6" font-weight="normal" fill="#000" textLength="251.3" lengthAdjust="spacingAndGlyphs">PERSPECTIVES</text>
</g>
<g id="labels">
<rect filter="url(#shb)" x="2959.4" y="732.4" width="140.2" height="70.2" fill="#fff" stroke="#000" stroke-width="1.2"/>
<text x="2981.5" y="783.4" font-size="41.9" font-weight="bold" fill="#0000ff" textLength="103.3" lengthAdjust="spacingAndGlyphs">3,965</text>
<rect filter="url(#shb)" x="700.5" y="1385.8" width="131.8" height="68.6" fill="#fff" stroke="#000" stroke-width="3.0"/>
<text x="715.7" y="1436.0" font-size="41.9" font-weight="bold" fill="#0000ff" textLength="102.7" lengthAdjust="spacingAndGlyphs">1,217</text>
<rect filter="url(#shb)" x="874.4" y="1316.6" width="132.0" height="69.6" fill="#fff" stroke="#000" stroke-width="3.0"/>
<text x="889.8" y="1367.5" font-size="41.9" font-weight="bold" fill="#0000ff" textLength="102.8" lengthAdjust="spacingAndGlyphs">1,364</text>
<rect filter="url(#shb)" x="1345.6" y="1502.7" width="109.1" height="70.1" fill="#fff" stroke="#000" stroke-width="1.2"/>
<text x="1358.8" y="1553.6" font-size="41.9" font-weight="bold" fill="#000" textLength="82.0" lengthAdjust="spacingAndGlyphs">3.04</text>
<rect filter="url(#shb)" x="2966.3" y="1423.4" width="110.6" height="66.9" fill="#fff" stroke="#000" stroke-width="1.2"/>
<text x="2979.2" y="1472.6" font-size="41.9" font-weight="bold" fill="#000" textLength="80.8" lengthAdjust="spacingAndGlyphs">3.82</text>
<rect filter="url(#shb)" x="2964.4" y="1502.3" width="110.3" height="68.1" fill="#fff" stroke="#000" stroke-width="1.2"/>
<text x="2977.1" y="1552.0" font-size="41.9" font-weight="bold" fill="#000" textLength="81.5" lengthAdjust="spacingAndGlyphs">3.82</text>
<path filter="url(#shb)" d="M115.4 948.5 H375.8 A21 21 0 0 1 396.8 969.5 V1074.7 A21 21 0 0 1 375.8 1095.7 H346 L319.2 1133.9 L271 1095.7 H115.4 A21 21 0 0 1 94.4 1074.7 V969.5 A21 21 0 0 1 115.4 948.5 Z" fill="#eeece1" stroke="#222" stroke-width="1.3"/>
<text x="137.5" y="1009.6" font-size="41.9" font-weight="bold" fill="#000" textLength="213.9" lengthAdjust="spacingAndGlyphs">Oct 9, 2007</text>
<text x="112.3" y="1065.5" font-size="41.9" font-weight="bold" fill="#000" textLength="264.1" lengthAdjust="spacingAndGlyphs">pre-crisis high</text>
</g>
</svg></body></html>
